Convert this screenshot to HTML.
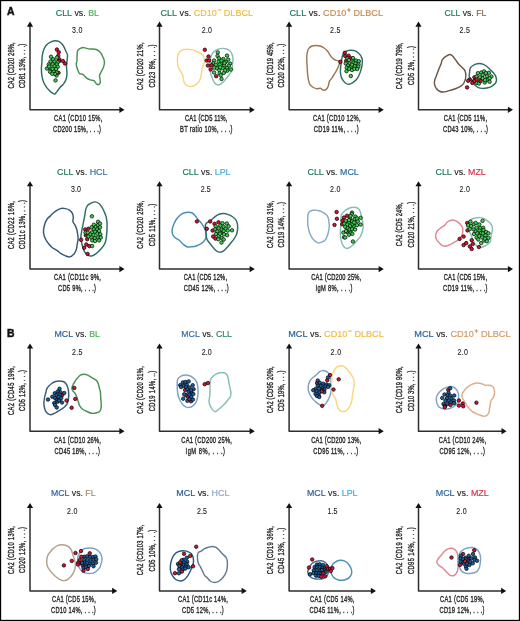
<!DOCTYPE html>
<html><head><meta charset="utf-8"><title>Figure</title>
<style>html,body{margin:0;padding:0;background:#fff;}svg{display:block;will-change:transform;}text{font-family:"Liberation Sans",sans-serif;}</style>
</head><body>
<svg width="520" height="621" viewBox="0 0 520 621">
<rect x="0" y="0" width="520" height="621" fill="#fff"/>
<path d="M30,25.6 V109.8 H120.5" fill="none" stroke="#2e2e2e" stroke-width="1.5" stroke-linejoin="round"/>
<path d="M30,21.6 L26.9,26.7 L33.1,26.7 Z" fill="#111"/>
<path d="M124.5,109.8 L119.4,106.7 L119.4,112.9 Z" fill="#111"/>
<text x="55.8" y="16" font-size="9.8" fill="#1f7a64" stroke="#1f7a64" stroke-width="0.2" textLength="16.2" lengthAdjust="spacingAndGlyphs">CLL</text>
<text x="74.46" y="16" font-size="9.8" fill="#1e1e1e" stroke="#1e1e1e" stroke-width="0.12" textLength="11.29" lengthAdjust="spacingAndGlyphs">vs.</text>
<text x="88.2" y="16" font-size="9.8" fill="#4bb651" stroke="#4bb651" stroke-width="0.2" textLength="10.8" lengthAdjust="spacingAndGlyphs">BL</text>
<text transform="translate(72.1,33) scale(0.85,1)" font-size="8.3" fill="#222" stroke="#222" stroke-width="0.1" letter-spacing="0.29">3.0</text>
<text transform="translate(54,121.3) scale(0.6,1)" font-size="9.6" fill="#2b2b2b" stroke="#2b2b2b" stroke-width="0.42" letter-spacing="0.55">CA1 (CD10 15%,</text>
<text transform="translate(53,132.4) scale(0.6,1)" font-size="9.6" fill="#2b2b2b" stroke="#2b2b2b" stroke-width="0.42" letter-spacing="0.4">CD200 15%, . . .)</text>
<text transform="translate(13.8,88.6) rotate(-90) scale(0.6,1)" font-size="9.6" fill="#2b2b2b" stroke="#2b2b2b" stroke-width="0.42" letter-spacing="0.28">CA2 (CD20 26%,</text>
<text transform="translate(25,88.1) rotate(-90) scale(0.6,1)" font-size="9.6" fill="#2b2b2b" stroke="#2b2b2b" stroke-width="0.42" letter-spacing="0.38">CD81 13%, . . .)</text>
<path d="M54.9,40.7 C56.35,40.55 57.58,40.8 58.8,41.4 C60.02,42 61.23,43.18 62.2,44.3 C63.17,45.42 63.97,46.9 64.6,48.1 C65.23,49.3 65.52,50.37 66,51.5 C66.48,52.63 67.33,53.28 67.5,54.9 C67.67,56.52 67.17,59.18 67,61.2 C66.83,63.22 66.5,64.92 66.5,67 C66.5,69.08 67.08,71.62 67,73.7 C66.92,75.78 66.57,77.8 66,79.5 C65.43,81.2 64.57,82.6 63.6,83.9 C62.63,85.2 61.25,86.1 60.2,87.3 C59.15,88.5 58.18,89.98 57.3,91.1 C56.42,92.22 55.7,93.67 54.9,94 C54.1,94.33 53.38,93.65 52.5,93.1 C51.62,92.55 50.65,91.75 49.6,90.7 C48.55,89.65 47.25,88.33 46.2,86.8 C45.15,85.27 44.02,83.35 43.3,81.5 C42.58,79.65 42.22,77.8 41.9,75.7 C41.58,73.6 41.4,71.15 41.4,68.9 C41.4,66.65 41.75,64.45 41.9,62.2 C42.05,59.95 41.98,57.5 42.3,55.4 C42.62,53.3 43.15,51.3 43.8,49.6 C44.45,47.9 45.15,46.42 46.2,45.2 C47.25,43.98 48.65,43.05 50.1,42.3 C51.55,41.55 53.45,40.85 54.9,40.7Z" fill="none" stroke="#2f6d62" stroke-width="1.45"/>
<path d="M77.7,50.7 C78.2,49.88 79.25,48.92 80.3,48.4 C81.35,47.88 82.83,47.57 84,47.6 C85.17,47.63 86.13,48.37 87.3,48.6 C88.47,48.83 89.7,48.88 91,49 C92.3,49.12 93.87,49.02 95.1,49.3 C96.33,49.58 97.42,50.03 98.4,50.7 C99.38,51.37 100.32,52.38 101,53.3 C101.68,54.22 102,55.15 102.5,56.2 C103,57.25 103.68,58.42 104,59.6 C104.32,60.78 104.52,61.95 104.4,63.3 C104.28,64.65 103.8,66.35 103.3,67.7 C102.8,69.05 102.02,70.17 101.4,71.4 C100.78,72.63 99.85,73.87 99.6,75.1 C99.35,76.33 99.78,77.57 99.9,78.8 C100.02,80.03 100.55,81.52 100.3,82.5 C100.05,83.48 99.08,84.52 98.4,84.7 C97.72,84.88 96.93,84.27 96.2,83.6 C95.47,82.93 94.98,81.32 94,80.7 C93.02,80.08 91.53,80.33 90.3,79.9 C89.07,79.47 87.83,79.02 86.6,78.1 C85.37,77.18 84.07,75.15 82.9,74.4 C81.73,73.65 80.4,74.22 79.6,73.6 C78.8,72.98 78.6,71.93 78.1,70.7 C77.6,69.47 76.92,67.43 76.6,66.2 C76.28,64.97 76.13,64.17 76.2,63.3 C76.27,62.43 76.87,62.12 77,61 C77.13,59.88 76.95,57.88 77,56.6 C77.05,55.32 77.18,54.28 77.3,53.3 C77.42,52.32 77.2,51.52 77.7,50.7Z" fill="none" stroke="#4a9155" stroke-width="1.45"/>
<circle cx="56.9" cy="49.5" r="1.75" fill="#dc0f30" stroke="#000" stroke-width="0.7"/>
<circle cx="58.75" cy="52.25" r="1.75" fill="#dc0f30" stroke="#000" stroke-width="0.7"/>
<circle cx="58.25" cy="55.75" r="1.75" fill="#dc0f30" stroke="#000" stroke-width="0.7"/>
<circle cx="59.25" cy="59.25" r="1.75" fill="#dc0f30" stroke="#000" stroke-width="0.7"/>
<circle cx="59" cy="61.25" r="1.75" fill="#dc0f30" stroke="#000" stroke-width="0.7"/>
<circle cx="62.9" cy="61" r="1.75" fill="#dc0f30" stroke="#000" stroke-width="0.7"/>
<circle cx="65" cy="63.5" r="1.75" fill="#dc0f30" stroke="#000" stroke-width="0.7"/>
<circle cx="58.5" cy="72.75" r="1.75" fill="#dc0f30" stroke="#000" stroke-width="0.7"/>
<circle cx="51" cy="56.75" r="1.75" fill="#3ccf50" stroke="#000" stroke-width="0.7"/>
<circle cx="57" cy="57.5" r="1.75" fill="#3ccf50" stroke="#000" stroke-width="0.7"/>
<circle cx="53" cy="59.25" r="1.75" fill="#3ccf50" stroke="#000" stroke-width="0.7"/>
<circle cx="50.5" cy="61.5" r="1.75" fill="#3ccf50" stroke="#000" stroke-width="0.7"/>
<circle cx="54.75" cy="61.5" r="1.75" fill="#3ccf50" stroke="#000" stroke-width="0.7"/>
<circle cx="57.5" cy="62.25" r="1.75" fill="#3ccf50" stroke="#000" stroke-width="0.7"/>
<circle cx="48.75" cy="64.5" r="1.75" fill="#3ccf50" stroke="#000" stroke-width="0.7"/>
<circle cx="52.75" cy="64.25" r="1.75" fill="#3ccf50" stroke="#000" stroke-width="0.7"/>
<circle cx="56.75" cy="64.5" r="1.75" fill="#3ccf50" stroke="#000" stroke-width="0.7"/>
<circle cx="47" cy="68.5" r="1.75" fill="#3ccf50" stroke="#000" stroke-width="0.7"/>
<circle cx="50.5" cy="68.5" r="1.75" fill="#3ccf50" stroke="#000" stroke-width="0.7"/>
<circle cx="54.5" cy="66.25" r="1.75" fill="#3ccf50" stroke="#000" stroke-width="0.7"/>
<circle cx="57.75" cy="66.75" r="1.75" fill="#3ccf50" stroke="#000" stroke-width="0.7"/>
<circle cx="56" cy="69" r="1.75" fill="#3ccf50" stroke="#000" stroke-width="0.7"/>
<circle cx="50" cy="71.75" r="1.75" fill="#3ccf50" stroke="#000" stroke-width="0.7"/>
<circle cx="53.75" cy="71.25" r="1.75" fill="#3ccf50" stroke="#000" stroke-width="0.7"/>
<circle cx="56.75" cy="72.5" r="1.75" fill="#3ccf50" stroke="#000" stroke-width="0.7"/>
<circle cx="56.5" cy="75.5" r="1.75" fill="#3ccf50" stroke="#000" stroke-width="0.7"/>
<circle cx="52.5" cy="68.8" r="1.75" fill="#3ccf50" stroke="#000" stroke-width="0.7"/>
<circle cx="49" cy="66.5" r="1.75" fill="#3ccf50" stroke="#000" stroke-width="0.7"/>
<circle cx="55" cy="74" r="1.75" fill="#3ccf50" stroke="#000" stroke-width="0.7"/>
<circle cx="52.2" cy="73.8" r="1.75" fill="#3ccf50" stroke="#000" stroke-width="0.7"/>
<circle cx="55.5" cy="80.4" r="1.75" fill="#3ccf50" stroke="#000" stroke-width="0.7"/>
<path d="M159.5,25.6 V109.8 H250.75" fill="none" stroke="#2e2e2e" stroke-width="1.5" stroke-linejoin="round"/>
<path d="M159.5,21.6 L156.4,26.7 L162.6,26.7 Z" fill="#111"/>
<path d="M254.75,109.8 L249.65,106.7 L249.65,112.9 Z" fill="#111"/>
<text x="160.5" y="16" font-size="9.8" fill="#1f7a64" stroke="#1f7a64" stroke-width="0.2" textLength="16.59" lengthAdjust="spacingAndGlyphs">CLL</text>
<text x="179.61" y="16" font-size="9.8" fill="#1e1e1e" stroke="#1e1e1e" stroke-width="0.12" textLength="11.56" lengthAdjust="spacingAndGlyphs">vs.</text>
<text x="193.68" y="16" font-size="9.8" fill="#f4b942" stroke="#f4b942" stroke-width="0.2" textLength="23.13" lengthAdjust="spacingAndGlyphs">CD10</text>
<rect x="217.5" y="9.45" width="3.7" height="1.1" fill="#f4b942"/>
<text x="223.84" y="16" font-size="9.8" fill="#f4b942" stroke="#f4b942" stroke-width="0.2" textLength="29.16" lengthAdjust="spacingAndGlyphs">DLBCL</text>
<text transform="translate(201.85,33) scale(0.85,1)" font-size="8.3" fill="#222" stroke="#222" stroke-width="0.1" letter-spacing="0.14">2.0</text>
<text transform="translate(185,121.3) scale(0.6,1)" font-size="9.6" fill="#2b2b2b" stroke="#2b2b2b" stroke-width="0.42" letter-spacing="0.27">CA1 (CD5 11%,</text>
<text transform="translate(180,132.4) scale(0.6,1)" font-size="9.6" fill="#2b2b2b" stroke="#2b2b2b" stroke-width="0.42" letter-spacing="0.54">BT ratio 10%, . . .)</text>
<text transform="translate(143.3,90) rotate(-90) scale(0.6,1)" font-size="9.6" fill="#2b2b2b" stroke="#2b2b2b" stroke-width="0.42" letter-spacing="0.43">CA2 (CD20 21%,</text>
<text transform="translate(154.5,87.5) rotate(-90) scale(0.6,1)" font-size="9.6" fill="#2b2b2b" stroke="#2b2b2b" stroke-width="0.42" letter-spacing="0.62">CD23 8%, . . .)</text>
<path d="M179,52.7 C179.77,51.82 181.08,50.48 182.5,49.9 C183.92,49.32 185.85,49.2 187.5,49.2 C189.15,49.2 190.75,49.48 192.4,49.9 C194.05,50.32 195.87,51 197.4,51.7 C198.93,52.4 200.48,53.1 201.6,54.1 C202.72,55.1 203.62,56.52 204.1,57.7 C204.58,58.88 204.62,59.97 204.5,61.2 C204.38,62.43 203.82,63.73 203.4,65.1 C202.98,66.47 202.35,67.87 202,69.4 C201.65,70.93 201.6,72.65 201.3,74.3 C201,75.95 200.85,77.77 200.2,79.3 C199.55,80.83 198.58,82.38 197.4,83.5 C196.22,84.62 194.52,85.52 193.1,86 C191.68,86.48 190.2,86.7 188.9,86.4 C187.6,86.1 186.18,85.15 185.3,84.2 C184.42,83.25 184,82.12 183.6,80.7 C183.2,79.28 183.32,77.12 182.9,75.7 C182.48,74.28 181.82,73.48 181.1,72.2 C180.38,70.92 179.2,69.53 178.6,68 C178,66.47 177.68,64.67 177.5,63 C177.32,61.33 177.43,59.3 177.5,58 C177.57,56.7 177.65,56.08 177.9,55.2 C178.15,54.32 178.23,53.58 179,52.7Z" fill="none" stroke="#fad582" stroke-width="1.45"/>
<path d="M211.7,54.6 C212.4,53.18 213.43,51.98 214.5,51.1 C215.57,50.22 216.8,49.75 218.1,49.3 C219.4,48.85 220.88,48.45 222.3,48.4 C223.72,48.35 225.3,48.55 226.6,49 C227.9,49.45 229.17,50.17 230.1,51.1 C231.03,52.03 231.72,53.3 232.2,54.6 C232.68,55.9 232.93,57.48 233,58.9 C233.07,60.32 232.73,61.68 232.6,63.1 C232.47,64.52 232.43,65.97 232.2,67.4 C231.97,68.83 231.78,70.4 231.2,71.7 C230.62,73 229.58,74.02 228.7,75.2 C227.82,76.38 226.85,77.62 225.9,78.8 C224.95,79.98 224.07,81.3 223,82.3 C221.93,83.3 220.62,84.45 219.5,84.8 C218.38,85.15 217.25,84.93 216.3,84.4 C215.35,83.87 214.52,82.78 213.8,81.6 C213.08,80.42 212.53,78.72 212,77.3 C211.47,75.88 211.02,74.52 210.6,73.1 C210.18,71.68 209.62,70.22 209.5,68.8 C209.38,67.38 209.77,66.13 209.9,64.6 C210.03,63.07 210,61.27 210.3,59.6 C210.6,57.93 211,56.02 211.7,54.6Z" fill="none" stroke="#86bfb0" stroke-width="1.45"/>
<circle cx="217.8" cy="52.5" r="1.75" fill="#3ccf50" stroke="#000" stroke-width="0.7"/>
<circle cx="217.5" cy="55.9" r="1.75" fill="#3ccf50" stroke="#000" stroke-width="0.7"/>
<circle cx="227" cy="55.6" r="1.75" fill="#3ccf50" stroke="#000" stroke-width="0.7"/>
<circle cx="214.1" cy="60.5" r="1.75" fill="#3ccf50" stroke="#000" stroke-width="0.7"/>
<circle cx="219" cy="58.4" r="1.75" fill="#3ccf50" stroke="#000" stroke-width="0.7"/>
<circle cx="223.3" cy="59" r="1.75" fill="#3ccf50" stroke="#000" stroke-width="0.7"/>
<circle cx="228.2" cy="59.6" r="1.75" fill="#3ccf50" stroke="#000" stroke-width="0.7"/>
<circle cx="218.7" cy="61.8" r="1.75" fill="#3ccf50" stroke="#000" stroke-width="0.7"/>
<circle cx="221.5" cy="63" r="1.75" fill="#3ccf50" stroke="#000" stroke-width="0.7"/>
<circle cx="225.8" cy="61.8" r="1.75" fill="#3ccf50" stroke="#000" stroke-width="0.7"/>
<circle cx="230.1" cy="63.6" r="1.75" fill="#3ccf50" stroke="#000" stroke-width="0.7"/>
<circle cx="213.2" cy="63.3" r="1.75" fill="#3ccf50" stroke="#000" stroke-width="0.7"/>
<circle cx="215.9" cy="64.8" r="1.75" fill="#3ccf50" stroke="#000" stroke-width="0.7"/>
<circle cx="219.6" cy="64.5" r="1.75" fill="#3ccf50" stroke="#000" stroke-width="0.7"/>
<circle cx="224.2" cy="65.2" r="1.75" fill="#3ccf50" stroke="#000" stroke-width="0.7"/>
<circle cx="228.8" cy="65.8" r="1.75" fill="#3ccf50" stroke="#000" stroke-width="0.7"/>
<circle cx="216.8" cy="68.2" r="1.75" fill="#3ccf50" stroke="#000" stroke-width="0.7"/>
<circle cx="222.7" cy="68" r="1.75" fill="#3ccf50" stroke="#000" stroke-width="0.7"/>
<circle cx="227" cy="68" r="1.75" fill="#3ccf50" stroke="#000" stroke-width="0.7"/>
<circle cx="231" cy="69.5" r="1.75" fill="#3ccf50" stroke="#000" stroke-width="0.7"/>
<circle cx="214.1" cy="67.6" r="1.75" fill="#3ccf50" stroke="#000" stroke-width="0.7"/>
<circle cx="219.3" cy="70.1" r="1.75" fill="#3ccf50" stroke="#000" stroke-width="0.7"/>
<circle cx="227.3" cy="70.7" r="1.75" fill="#3ccf50" stroke="#000" stroke-width="0.7"/>
<circle cx="223.9" cy="72.8" r="1.75" fill="#3ccf50" stroke="#000" stroke-width="0.7"/>
<circle cx="214.1" cy="72.5" r="1.75" fill="#3ccf50" stroke="#000" stroke-width="0.7"/>
<circle cx="219.6" cy="73.5" r="1.75" fill="#3ccf50" stroke="#000" stroke-width="0.7"/>
<circle cx="220.8" cy="75.3" r="1.75" fill="#3ccf50" stroke="#000" stroke-width="0.7"/>
<circle cx="221.5" cy="79" r="1.75" fill="#3ccf50" stroke="#000" stroke-width="0.7"/>
<circle cx="221.5" cy="60.5" r="1.75" fill="#3ccf50" stroke="#000" stroke-width="0.7"/>
<circle cx="224.5" cy="63" r="1.75" fill="#3ccf50" stroke="#000" stroke-width="0.7"/>
<circle cx="220.2" cy="67.3" r="1.75" fill="#3ccf50" stroke="#000" stroke-width="0.7"/>
<circle cx="225.2" cy="70.4" r="1.75" fill="#3ccf50" stroke="#000" stroke-width="0.7"/>
<circle cx="204.8" cy="49.8" r="1.75" fill="#dc0f30" stroke="#000" stroke-width="0.7"/>
<circle cx="208.5" cy="56.5" r="1.75" fill="#dc0f30" stroke="#000" stroke-width="0.7"/>
<circle cx="206.7" cy="60.5" r="1.75" fill="#dc0f30" stroke="#000" stroke-width="0.7"/>
<circle cx="209.2" cy="60.5" r="1.75" fill="#dc0f30" stroke="#000" stroke-width="0.7"/>
<circle cx="207.9" cy="65.5" r="1.75" fill="#dc0f30" stroke="#000" stroke-width="0.7"/>
<circle cx="211.6" cy="65.2" r="1.75" fill="#dc0f30" stroke="#000" stroke-width="0.7"/>
<circle cx="210.7" cy="69.5" r="1.75" fill="#dc0f30" stroke="#000" stroke-width="0.7"/>
<circle cx="216.2" cy="76.2" r="1.75" fill="#dc0f30" stroke="#000" stroke-width="0.7"/>
<path d="M289.1,25.6 V109.8 H379.75" fill="none" stroke="#2e2e2e" stroke-width="1.5" stroke-linejoin="round"/>
<path d="M289.1,21.6 L286,26.7 L292.2,26.7 Z" fill="#111"/>
<path d="M383.75,109.8 L378.65,106.7 L378.65,112.9 Z" fill="#111"/>
<text x="289.5" y="16" font-size="9.8" fill="#1f7a64" stroke="#1f7a64" stroke-width="0.2" textLength="16.77" lengthAdjust="spacingAndGlyphs">CLL</text>
<text x="308.81" y="16" font-size="9.8" fill="#1e1e1e" stroke="#1e1e1e" stroke-width="0.12" textLength="11.68" lengthAdjust="spacingAndGlyphs">vs.</text>
<text x="323.04" y="16" font-size="9.8" fill="#c98b52" stroke="#c98b52" stroke-width="0.2" textLength="23.38" lengthAdjust="spacingAndGlyphs">CD10</text>
<rect x="347.11" y="9.45" width="3.7" height="1.1" fill="#c98b52"/>
<rect x="348.41" y="8.15" width="1.1" height="3.7" fill="#c98b52"/>
<text x="353.52" y="16" font-size="9.8" fill="#c98b52" stroke="#c98b52" stroke-width="0.2" textLength="29.48" lengthAdjust="spacingAndGlyphs">DLBCL</text>
<text transform="translate(330.1,33) scale(0.85,1)" font-size="8.3" fill="#222" stroke="#222" stroke-width="0.1" letter-spacing="0.29">2.5</text>
<text transform="translate(313,121.3) scale(0.6,1)" font-size="9.6" fill="#2b2b2b" stroke="#2b2b2b" stroke-width="0.42" letter-spacing="0.43">CA1 (CD10 12%,</text>
<text transform="translate(313.75,132.4) scale(0.6,1)" font-size="9.6" fill="#2b2b2b" stroke="#2b2b2b" stroke-width="0.42" letter-spacing="0.49">CD19 11%, . . .)</text>
<text transform="translate(272.9,88.75) rotate(-90) scale(0.6,1)" font-size="9.6" fill="#2b2b2b" stroke="#2b2b2b" stroke-width="0.42" letter-spacing="0.27">CA2 (CD19 45%,</text>
<text transform="translate(284.1,87.5) rotate(-90) scale(0.6,1)" font-size="9.6" fill="#2b2b2b" stroke="#2b2b2b" stroke-width="0.42" letter-spacing="0.31">CD20 22%, . . .)</text>
<path d="M308.8,48.4 C309.53,47.52 310.78,46.5 312,46 C313.22,45.5 314.75,45.4 316.1,45.4 C317.45,45.4 318.77,45.57 320.1,46 C321.43,46.43 322.9,47.2 324.1,48 C325.3,48.8 326.37,49.72 327.3,50.8 C328.23,51.88 328.88,53.35 329.7,54.5 C330.52,55.65 331.25,56.77 332.2,57.7 C333.15,58.63 334.2,59.43 335.4,60.1 C336.6,60.77 338.87,60.7 339.4,61.7 C339.93,62.7 339.13,64.55 338.6,66.1 C338.07,67.65 337,69.52 336.2,71 C335.4,72.48 334.53,73.8 333.8,75 C333.07,76.2 332.55,77.13 331.8,78.2 C331.05,79.27 329.85,80.2 329.3,81.4 C328.75,82.6 328.97,84.12 328.5,85.4 C328.03,86.68 327.37,88.28 326.5,89.1 C325.63,89.92 324.3,90.43 323.3,90.3 C322.3,90.17 321.57,88.57 320.5,88.3 C319.43,88.03 318.1,88.83 316.9,88.7 C315.7,88.57 314.45,88.18 313.3,87.5 C312.15,86.82 310.82,85.88 310,84.6 C309.18,83.32 308.8,81.53 308.4,79.8 C308,78.07 307.8,76.22 307.6,74.2 C307.4,72.18 307.33,69.85 307.2,67.7 C307.07,65.55 306.87,63.3 306.8,61.3 C306.73,59.3 306.67,57.37 306.8,55.7 C306.93,54.03 307.27,52.52 307.6,51.3 C307.93,50.08 308.07,49.28 308.8,48.4Z" fill="none" stroke="#9d7754" stroke-width="1.45"/>
<path d="M343.2,53.8 C343.85,52.8 344.82,51.9 346,51.3 C347.18,50.7 348.88,50.32 350.3,50.2 C351.72,50.08 353.2,50.18 354.5,50.6 C355.8,51.02 357.03,51.82 358.1,52.7 C359.17,53.58 360.2,54.65 360.9,55.9 C361.6,57.15 362.12,58.67 362.3,60.2 C362.48,61.73 362.23,63.45 362,65.1 C361.77,66.75 361.43,68.33 360.9,70.1 C360.37,71.87 359.62,74.05 358.8,75.7 C357.98,77.35 357.07,78.82 356,80 C354.93,81.18 353.58,82.1 352.4,82.8 C351.22,83.5 349.97,84.08 348.9,84.2 C347.83,84.32 346.95,84.08 346,83.5 C345.05,82.92 344.02,81.87 343.2,80.7 C342.38,79.53 341.57,78.03 341.1,76.5 C340.63,74.97 340.47,73.17 340.4,71.5 C340.33,69.83 340.53,68.15 340.7,66.5 C340.87,64.85 341.17,63.13 341.4,61.6 C341.63,60.07 341.8,58.6 342.1,57.3 C342.4,56 342.55,54.8 343.2,53.8Z" fill="none" stroke="#2f6d62" stroke-width="1.45"/>
<circle cx="348.6" cy="55.7" r="1.75" fill="#dc0f30" stroke="#000" stroke-width="0.7"/>
<circle cx="350.3" cy="58.1" r="1.75" fill="#dc0f30" stroke="#000" stroke-width="0.7"/>
<circle cx="346.2" cy="60.8" r="1.75" fill="#dc0f30" stroke="#000" stroke-width="0.7"/>
<circle cx="347.4" cy="58.4" r="1.75" fill="#3ccf50" stroke="#000" stroke-width="0.7"/>
<circle cx="348.9" cy="60.1" r="1.75" fill="#3ccf50" stroke="#000" stroke-width="0.7"/>
<circle cx="352.5" cy="59.8" r="1.75" fill="#3ccf50" stroke="#000" stroke-width="0.7"/>
<circle cx="353" cy="58.1" r="1.75" fill="#3ccf50" stroke="#000" stroke-width="0.7"/>
<circle cx="356.1" cy="60.6" r="1.75" fill="#3ccf50" stroke="#000" stroke-width="0.7"/>
<circle cx="358.8" cy="61.3" r="1.75" fill="#3ccf50" stroke="#000" stroke-width="0.7"/>
<circle cx="345.7" cy="63.5" r="1.75" fill="#3ccf50" stroke="#000" stroke-width="0.7"/>
<circle cx="349.6" cy="63.5" r="1.75" fill="#3ccf50" stroke="#000" stroke-width="0.7"/>
<circle cx="353.5" cy="62.5" r="1.75" fill="#3ccf50" stroke="#000" stroke-width="0.7"/>
<circle cx="355.6" cy="63.5" r="1.75" fill="#3ccf50" stroke="#000" stroke-width="0.7"/>
<circle cx="358.5" cy="64.4" r="1.75" fill="#3ccf50" stroke="#000" stroke-width="0.7"/>
<circle cx="347.9" cy="65.6" r="1.75" fill="#3ccf50" stroke="#000" stroke-width="0.7"/>
<circle cx="351" cy="66.6" r="1.75" fill="#3ccf50" stroke="#000" stroke-width="0.7"/>
<circle cx="354.7" cy="66.1" r="1.75" fill="#3ccf50" stroke="#000" stroke-width="0.7"/>
<circle cx="358.3" cy="66.6" r="1.75" fill="#3ccf50" stroke="#000" stroke-width="0.7"/>
<circle cx="346.7" cy="67.8" r="1.75" fill="#3ccf50" stroke="#000" stroke-width="0.7"/>
<circle cx="349.1" cy="68.8" r="1.75" fill="#3ccf50" stroke="#000" stroke-width="0.7"/>
<circle cx="352" cy="70" r="1.75" fill="#3ccf50" stroke="#000" stroke-width="0.7"/>
<circle cx="354.4" cy="68.8" r="1.75" fill="#3ccf50" stroke="#000" stroke-width="0.7"/>
<circle cx="357.3" cy="69" r="1.75" fill="#3ccf50" stroke="#000" stroke-width="0.7"/>
<circle cx="346.5" cy="71.2" r="1.75" fill="#3ccf50" stroke="#000" stroke-width="0.7"/>
<circle cx="350.8" cy="76" r="1.75" fill="#3ccf50" stroke="#000" stroke-width="0.7"/>
<circle cx="352" cy="64.7" r="1.75" fill="#3ccf50" stroke="#000" stroke-width="0.7"/>
<circle cx="344.8" cy="52.8" r="1.75" fill="#dc0f30" stroke="#000" stroke-width="0.7"/>
<circle cx="345.2" cy="56" r="1.75" fill="#dc0f30" stroke="#000" stroke-width="0.7"/>
<circle cx="340.4" cy="61.8" r="1.75" fill="#dc0f30" stroke="#000" stroke-width="0.7"/>
<path d="M418.5,25.6 V109.8 H509" fill="none" stroke="#2e2e2e" stroke-width="1.5" stroke-linejoin="round"/>
<path d="M418.5,21.6 L415.4,26.7 L421.6,26.7 Z" fill="#111"/>
<path d="M513,109.8 L507.9,106.7 L507.9,112.9 Z" fill="#111"/>
<text x="444.5" y="16" font-size="9.8" fill="#1f7a64" stroke="#1f7a64" stroke-width="0.2" textLength="15.84" lengthAdjust="spacingAndGlyphs">CLL</text>
<text x="462.74" y="16" font-size="9.8" fill="#1e1e1e" stroke="#1e1e1e" stroke-width="0.12" textLength="11.03" lengthAdjust="spacingAndGlyphs">vs.</text>
<text x="476.17" y="16" font-size="9.8" fill="#8a6646" stroke="#8a6646" stroke-width="0.2" textLength="10.08" lengthAdjust="spacingAndGlyphs">FL</text>
<text transform="translate(459.6,33) scale(0.85,1)" font-size="8.3" fill="#222" stroke="#222" stroke-width="0.1" letter-spacing="0.29">2.5</text>
<text transform="translate(443.75,121.3) scale(0.6,1)" font-size="9.6" fill="#2b2b2b" stroke="#2b2b2b" stroke-width="0.42" letter-spacing="0.38">CA1 (CD5 11%,</text>
<text transform="translate(443,132.4) scale(0.6,1)" font-size="9.6" fill="#2b2b2b" stroke="#2b2b2b" stroke-width="0.42" letter-spacing="0.45">CD43 10%, . . .)</text>
<text transform="translate(402.3,89.25) rotate(-90) scale(0.6,1)" font-size="9.6" fill="#2b2b2b" stroke="#2b2b2b" stroke-width="0.42" letter-spacing="0.33">CA2 (CD19 79%,</text>
<text transform="translate(413.5,85) rotate(-90) scale(0.6,1)" font-size="9.6" fill="#2b2b2b" stroke="#2b2b2b" stroke-width="0.42" letter-spacing="0.57">CD5 2%, . . .)</text>
<path d="M443.1,58.8 C443.82,58.03 445.12,56.92 446.2,56.2 C447.28,55.48 448.58,54.57 449.6,54.5 C450.62,54.43 451.33,54.95 452.3,55.8 C453.27,56.65 454.32,58.2 455.4,59.6 C456.48,61 457.65,62.85 458.8,64.2 C459.95,65.55 461.27,66.6 462.3,67.7 C463.33,68.8 464.42,69.65 465,70.8 C465.58,71.95 465.73,73.2 465.8,74.6 C465.87,76 465.73,77.78 465.4,79.2 C465.07,80.62 464.57,81.93 463.8,83.1 C463.03,84.27 462.2,85.25 460.8,86.2 C459.4,87.15 457.2,88.1 455.4,88.8 C453.6,89.5 451.8,89.88 450,90.4 C448.2,90.92 446.27,91.72 444.6,91.9 C442.93,92.08 441.35,92.02 440,91.5 C438.65,90.98 437.4,89.95 436.5,88.8 C435.6,87.65 434.92,85.93 434.6,84.6 C434.28,83.27 434.33,82.2 434.6,80.8 C434.87,79.4 435.55,78 436.2,76.2 C436.85,74.4 437.73,71.93 438.5,70 C439.27,68.07 440.23,66.13 440.8,64.6 C441.37,63.07 441.52,61.77 441.9,60.8 C442.28,59.83 442.38,59.57 443.1,58.8Z" fill="none" stroke="#6b5545" stroke-width="1.45"/>
<path d="M469.2,76.6 C468.97,75.68 469.33,74.58 469.5,73.2 C469.67,71.82 469.62,69.58 470.2,68.3 C470.78,67.02 471.83,66.25 473,65.5 C474.17,64.75 475.82,64.08 477.2,63.8 C478.58,63.52 479.92,63.52 481.3,63.8 C482.68,64.08 484.12,64.63 485.5,65.5 C486.88,66.37 488.33,67.83 489.6,69 C490.87,70.17 492.12,71.35 493.1,72.5 C494.08,73.65 494.93,74.63 495.5,75.9 C496.07,77.17 496.55,78.83 496.5,80.1 C496.45,81.37 496,82.47 495.2,83.5 C494.4,84.53 493.08,85.55 491.7,86.3 C490.32,87.05 488.52,87.65 486.9,88 C485.28,88.35 483.5,88.5 482,88.4 C480.5,88.3 479.05,87.92 477.9,87.4 C476.75,86.88 475.92,86.17 475.1,85.3 C474.28,84.43 473.7,83.3 473,82.2 C472.3,81.1 471.53,79.63 470.9,78.7 C470.27,77.77 469.43,77.52 469.2,76.6Z" fill="none" stroke="#2f6d62" stroke-width="1.45"/>
<circle cx="474.4" cy="77.3" r="1.75" fill="#dc0f30" stroke="#000" stroke-width="0.7"/>
<circle cx="477.9" cy="73.2" r="1.75" fill="#3ccf50" stroke="#000" stroke-width="0.7"/>
<circle cx="481.3" cy="72.5" r="1.75" fill="#3ccf50" stroke="#000" stroke-width="0.7"/>
<circle cx="484.1" cy="71.4" r="1.75" fill="#3ccf50" stroke="#000" stroke-width="0.7"/>
<circle cx="488.9" cy="72.8" r="1.75" fill="#3ccf50" stroke="#000" stroke-width="0.7"/>
<circle cx="476.5" cy="76.6" r="1.75" fill="#3ccf50" stroke="#000" stroke-width="0.7"/>
<circle cx="479.9" cy="77.3" r="1.75" fill="#3ccf50" stroke="#000" stroke-width="0.7"/>
<circle cx="482.7" cy="74.9" r="1.75" fill="#3ccf50" stroke="#000" stroke-width="0.7"/>
<circle cx="485.8" cy="73.2" r="1.75" fill="#3ccf50" stroke="#000" stroke-width="0.7"/>
<circle cx="486.9" cy="76.3" r="1.75" fill="#3ccf50" stroke="#000" stroke-width="0.7"/>
<circle cx="491.4" cy="76.6" r="1.75" fill="#3ccf50" stroke="#000" stroke-width="0.7"/>
<circle cx="482.7" cy="78.4" r="1.75" fill="#3ccf50" stroke="#000" stroke-width="0.7"/>
<circle cx="487.2" cy="79.7" r="1.75" fill="#3ccf50" stroke="#000" stroke-width="0.7"/>
<circle cx="489.6" cy="78.4" r="1.75" fill="#3ccf50" stroke="#000" stroke-width="0.7"/>
<circle cx="476.5" cy="82.9" r="1.75" fill="#3ccf50" stroke="#000" stroke-width="0.7"/>
<circle cx="478.9" cy="83.5" r="1.75" fill="#3ccf50" stroke="#000" stroke-width="0.7"/>
<circle cx="484.8" cy="82.5" r="1.75" fill="#3ccf50" stroke="#000" stroke-width="0.7"/>
<circle cx="489.6" cy="81.8" r="1.75" fill="#3ccf50" stroke="#000" stroke-width="0.7"/>
<circle cx="485.1" cy="80.1" r="1.75" fill="#3ccf50" stroke="#000" stroke-width="0.7"/>
<circle cx="480" cy="80.5" r="1.75" fill="#3ccf50" stroke="#000" stroke-width="0.7"/>
<circle cx="469.5" cy="79.7" r="1.75" fill="#dc0f30" stroke="#000" stroke-width="0.7"/>
<circle cx="468.2" cy="80.8" r="1.75" fill="#dc0f30" stroke="#000" stroke-width="0.7"/>
<circle cx="476.1" cy="79.7" r="1.75" fill="#dc0f30" stroke="#000" stroke-width="0.7"/>
<circle cx="474" cy="81.1" r="1.75" fill="#dc0f30" stroke="#000" stroke-width="0.7"/>
<circle cx="472.3" cy="82.9" r="1.75" fill="#dc0f30" stroke="#000" stroke-width="0.7"/>
<circle cx="480.6" cy="81.1" r="1.75" fill="#dc0f30" stroke="#000" stroke-width="0.7"/>
<circle cx="467.1" cy="87.4" r="1.75" fill="#dc0f30" stroke="#000" stroke-width="0.7"/>
<path d="M30,185.25 V269.1 H120.5" fill="none" stroke="#2e2e2e" stroke-width="1.5" stroke-linejoin="round"/>
<path d="M30,181.25 L26.9,186.35 L33.1,186.35 Z" fill="#111"/>
<path d="M124.5,269.1 L119.4,266 L119.4,272.2 Z" fill="#111"/>
<text x="57" y="175" font-size="9.8" fill="#1f7a64" stroke="#1f7a64" stroke-width="0.2" textLength="16.34" lengthAdjust="spacingAndGlyphs">CLL</text>
<text x="75.82" y="175" font-size="9.8" fill="#1e1e1e" stroke="#1e1e1e" stroke-width="0.12" textLength="11.38" lengthAdjust="spacingAndGlyphs">vs.</text>
<text x="89.68" y="175" font-size="9.8" fill="#3a72a6" stroke="#3a72a6" stroke-width="0.2" textLength="17.82" lengthAdjust="spacingAndGlyphs">HCL</text>
<text transform="translate(71.1,192) scale(0.85,1)" font-size="8.3" fill="#222" stroke="#222" stroke-width="0.1" letter-spacing="-0">3.0</text>
<text transform="translate(54,280.4) scale(0.6,1)" font-size="9.6" fill="#2b2b2b" stroke="#2b2b2b" stroke-width="0.42" letter-spacing="0.46">CA1 (CD11c 9%,</text>
<text transform="translate(58,291.4) scale(0.6,1)" font-size="9.6" fill="#2b2b2b" stroke="#2b2b2b" stroke-width="0.42" letter-spacing="0.44">CD5 9%, . . .)</text>
<text transform="translate(13.8,249) rotate(-90) scale(0.6,1)" font-size="9.6" fill="#2b2b2b" stroke="#2b2b2b" stroke-width="0.42" letter-spacing="0.49">CA2 (CD22 16%,</text>
<text transform="translate(25,249) rotate(-90) scale(0.6,1)" font-size="9.6" fill="#2b2b2b" stroke="#2b2b2b" stroke-width="0.42" letter-spacing="0.58">CD11c 13%, . . .)</text>
<path d="M47.2,219 C48.15,217.7 49.4,216.82 50.7,215.6 C52,214.38 53.4,212.87 55,211.7 C56.6,210.53 58.55,209.12 60.3,208.6 C62.05,208.08 63.92,208.32 65.5,208.6 C67.08,208.88 68.65,209.5 69.8,210.3 C70.95,211.1 71.82,212.23 72.4,213.4 C72.98,214.57 73.22,215.92 73.3,217.3 C73.38,218.68 72.62,220.4 72.9,221.7 C73.18,223 74.35,223.8 75,225.1 C75.65,226.4 76.35,227.9 76.8,229.5 C77.25,231.1 77.48,233.12 77.7,234.7 C77.92,236.28 78.18,237.4 78.1,239 C78.02,240.6 77.5,242.55 77.2,244.3 C76.9,246.05 76.8,247.92 76.3,249.5 C75.8,251.08 75.28,252.57 74.2,253.8 C73.12,255.03 71.33,256.6 69.8,256.9 C68.27,257.2 66.52,256.18 65,255.6 C63.48,255.02 62.07,254.28 60.7,253.4 C59.33,252.52 58.18,251.25 56.8,250.3 C55.42,249.35 53.7,248.7 52.4,247.7 C51.1,246.7 50.15,245.75 49,244.3 C47.85,242.85 46.38,240.75 45.5,239 C44.62,237.25 44,235.53 43.7,233.8 C43.4,232.07 43.48,230.33 43.7,228.6 C43.92,226.87 44.42,225 45,223.4 C45.58,221.8 46.25,220.3 47.2,219Z" fill="none" stroke="#36597a" stroke-width="1.45"/>
<path d="M87.7,205.3 C88.67,204.17 90.22,203.37 91.5,202.8 C92.78,202.23 94.1,201.73 95.4,201.9 C96.7,202.07 98.17,202.83 99.3,203.8 C100.43,204.77 101.4,206.42 102.2,207.7 C103,208.98 103.47,210.05 104.1,211.5 C104.73,212.95 105.52,214.62 106,216.4 C106.48,218.18 106.83,220.12 107,222.2 C107.17,224.28 107.08,226.65 107,228.9 C106.92,231.15 106.73,233.6 106.5,235.7 C106.27,237.8 106.17,239.72 105.6,241.5 C105.03,243.28 104.15,244.87 103.1,246.4 C102.05,247.93 100.58,249.42 99.3,250.7 C98.02,251.98 96.7,253.22 95.4,254.1 C94.1,254.98 92.78,255.83 91.5,256 C90.22,256.17 88.82,255.73 87.7,255.1 C86.58,254.47 85.62,253.5 84.8,252.2 C83.98,250.9 83.37,249.08 82.8,247.3 C82.23,245.52 81.72,243.27 81.4,241.5 C81.08,239.73 80.82,238.63 80.9,236.7 C80.98,234.77 81.5,232.17 81.9,229.9 C82.3,227.63 82.82,225.52 83.3,223.1 C83.78,220.68 84.4,217.65 84.8,215.4 C85.2,213.15 85.22,211.28 85.7,209.6 C86.18,207.92 86.73,206.43 87.7,205.3Z" fill="none" stroke="#2f6d62" stroke-width="1.45"/>
<circle cx="85.2" cy="229.4" r="1.75" fill="#dc0f30" stroke="#000" stroke-width="0.7"/>
<circle cx="88.4" cy="228.8" r="1.75" fill="#dc0f30" stroke="#000" stroke-width="0.7"/>
<circle cx="85.8" cy="235.2" r="1.75" fill="#dc0f30" stroke="#000" stroke-width="0.7"/>
<circle cx="81.1" cy="239.8" r="1.75" fill="#dc0f30" stroke="#000" stroke-width="0.7"/>
<circle cx="87.2" cy="239.2" r="1.75" fill="#dc0f30" stroke="#000" stroke-width="0.7"/>
<circle cx="86.3" cy="244.4" r="1.75" fill="#dc0f30" stroke="#000" stroke-width="0.7"/>
<circle cx="89.3" cy="246.1" r="1.75" fill="#dc0f30" stroke="#000" stroke-width="0.7"/>
<circle cx="84.2" cy="247.8" r="1.75" fill="#dc0f30" stroke="#000" stroke-width="0.7"/>
<circle cx="87.6" cy="253.9" r="1.75" fill="#dc0f30" stroke="#000" stroke-width="0.7"/>
<circle cx="91.9" cy="216.3" r="1.75" fill="#3ccf50" stroke="#000" stroke-width="0.7"/>
<circle cx="98" cy="221.8" r="1.75" fill="#3ccf50" stroke="#000" stroke-width="0.7"/>
<circle cx="93.9" cy="224.7" r="1.75" fill="#3ccf50" stroke="#000" stroke-width="0.7"/>
<circle cx="98" cy="225" r="1.75" fill="#3ccf50" stroke="#000" stroke-width="0.7"/>
<circle cx="100" cy="223.6" r="1.75" fill="#3ccf50" stroke="#000" stroke-width="0.7"/>
<circle cx="91.6" cy="227.3" r="1.75" fill="#3ccf50" stroke="#000" stroke-width="0.7"/>
<circle cx="95.6" cy="227.1" r="1.75" fill="#3ccf50" stroke="#000" stroke-width="0.7"/>
<circle cx="100" cy="227.3" r="1.75" fill="#3ccf50" stroke="#000" stroke-width="0.7"/>
<circle cx="93.9" cy="229.4" r="1.75" fill="#3ccf50" stroke="#000" stroke-width="0.7"/>
<circle cx="97.1" cy="229.4" r="1.75" fill="#3ccf50" stroke="#000" stroke-width="0.7"/>
<circle cx="91.9" cy="232.3" r="1.75" fill="#3ccf50" stroke="#000" stroke-width="0.7"/>
<circle cx="95" cy="231.7" r="1.75" fill="#3ccf50" stroke="#000" stroke-width="0.7"/>
<circle cx="99.1" cy="231.1" r="1.75" fill="#3ccf50" stroke="#000" stroke-width="0.7"/>
<circle cx="85.5" cy="232.6" r="1.75" fill="#3ccf50" stroke="#000" stroke-width="0.7"/>
<circle cx="87.8" cy="232.8" r="1.75" fill="#3ccf50" stroke="#000" stroke-width="0.7"/>
<circle cx="90.4" cy="234.6" r="1.75" fill="#3ccf50" stroke="#000" stroke-width="0.7"/>
<circle cx="93.3" cy="235.2" r="1.75" fill="#3ccf50" stroke="#000" stroke-width="0.7"/>
<circle cx="97.4" cy="233.7" r="1.75" fill="#3ccf50" stroke="#000" stroke-width="0.7"/>
<circle cx="100.3" cy="234.3" r="1.75" fill="#3ccf50" stroke="#000" stroke-width="0.7"/>
<circle cx="88.4" cy="236.6" r="1.75" fill="#3ccf50" stroke="#000" stroke-width="0.7"/>
<circle cx="91.6" cy="237.5" r="1.75" fill="#3ccf50" stroke="#000" stroke-width="0.7"/>
<circle cx="94.8" cy="238.1" r="1.75" fill="#3ccf50" stroke="#000" stroke-width="0.7"/>
<circle cx="98" cy="237.5" r="1.75" fill="#3ccf50" stroke="#000" stroke-width="0.7"/>
<circle cx="100.8" cy="237.5" r="1.75" fill="#3ccf50" stroke="#000" stroke-width="0.7"/>
<circle cx="92.2" cy="240.4" r="1.75" fill="#3ccf50" stroke="#000" stroke-width="0.7"/>
<circle cx="95" cy="241" r="1.75" fill="#3ccf50" stroke="#000" stroke-width="0.7"/>
<circle cx="99.1" cy="240.4" r="1.75" fill="#3ccf50" stroke="#000" stroke-width="0.7"/>
<circle cx="92.1" cy="246.1" r="1.75" fill="#3ccf50" stroke="#000" stroke-width="0.7"/>
<path d="M159.5,185.25 V269.1 H250.75" fill="none" stroke="#2e2e2e" stroke-width="1.5" stroke-linejoin="round"/>
<path d="M159.5,181.25 L156.4,186.35 L162.6,186.35 Z" fill="#111"/>
<path d="M254.75,269.1 L249.65,266 L249.65,272.2 Z" fill="#111"/>
<text x="182.5" y="175" font-size="9.8" fill="#1f7a64" stroke="#1f7a64" stroke-width="0.2" textLength="16.17" lengthAdjust="spacingAndGlyphs">CLL</text>
<text x="201.11" y="175" font-size="9.8" fill="#1e1e1e" stroke="#1e1e1e" stroke-width="0.12" textLength="11.26" lengthAdjust="spacingAndGlyphs">vs.</text>
<text x="214.82" y="175" font-size="9.8" fill="#49abdc" stroke="#49abdc" stroke-width="0.2" textLength="15.68" lengthAdjust="spacingAndGlyphs">LPL</text>
<text transform="translate(200.85,192) scale(0.85,1)" font-size="8.3" fill="#222" stroke="#222" stroke-width="0.1" letter-spacing="-0">2.5</text>
<text transform="translate(183.75,280.4) scale(0.6,1)" font-size="9.6" fill="#2b2b2b" stroke="#2b2b2b" stroke-width="0.42" letter-spacing="0.32">CA1 (CD5 12%,</text>
<text transform="translate(183.75,291.4) scale(0.6,1)" font-size="9.6" fill="#2b2b2b" stroke="#2b2b2b" stroke-width="0.42" letter-spacing="0.45">CD45 12%, . . .)</text>
<text transform="translate(143.3,248.75) rotate(-90) scale(0.6,1)" font-size="9.6" fill="#2b2b2b" stroke="#2b2b2b" stroke-width="0.42" letter-spacing="0.49">CA2 (CD20 25%,</text>
<text transform="translate(154.5,246.25) rotate(-90) scale(0.6,1)" font-size="9.6" fill="#2b2b2b" stroke="#2b2b2b" stroke-width="0.42" letter-spacing="0.61">CD5 11%, . . .)</text>
<path d="M176.2,219.5 C177.23,218.02 178.73,216.38 180,215.3 C181.27,214.22 182.38,213.52 183.8,213 C185.22,212.48 187.08,212.2 188.5,212.2 C189.92,212.2 191.15,212.35 192.3,213 C193.45,213.65 194.37,214.95 195.4,216.1 C196.43,217.25 197.48,218.68 198.5,219.9 C199.52,221.12 200.55,222.12 201.5,223.4 C202.45,224.68 203.48,226.2 204.2,227.6 C204.92,229 205.47,230.32 205.8,231.8 C206.13,233.28 206.4,235.08 206.2,236.5 C206,237.92 205.38,239.15 204.6,240.3 C203.82,241.45 202.78,242.5 201.5,243.4 C200.22,244.3 198.57,245.13 196.9,245.7 C195.23,246.27 193.17,246.62 191.5,246.8 C189.83,246.98 188.3,247.23 186.9,246.8 C185.5,246.37 184.38,245.28 183.1,244.2 C181.82,243.12 180.62,241.47 179.2,240.3 C177.78,239.13 175.75,238.35 174.6,237.2 C173.45,236.05 172.68,234.8 172.3,233.4 C171.92,232 172.05,230.33 172.3,228.8 C172.55,227.27 173.15,225.75 173.8,224.2 C174.45,222.65 175.17,220.98 176.2,219.5Z" fill="none" stroke="#4a8db5" stroke-width="1.45"/>
<path d="M205.5,224.7 C205.82,223.8 206.43,223.18 207.4,222.4 C208.37,221.62 210.02,220.97 211.3,220 C212.58,219.03 213.82,217.57 215.1,216.6 C216.38,215.63 217.58,214.72 219,214.2 C220.42,213.68 222.05,213.43 223.6,213.5 C225.15,213.57 226.75,214.02 228.3,214.6 C229.85,215.18 231.62,216.1 232.9,217 C234.18,217.9 235.23,218.72 236,220 C236.77,221.28 237.25,223.02 237.5,224.7 C237.75,226.38 237.68,228.43 237.5,230.1 C237.32,231.77 237.03,233.17 236.4,234.7 C235.77,236.23 234.67,237.88 233.7,239.3 C232.73,240.72 231.77,241.78 230.6,243.2 C229.43,244.62 228,246.45 226.7,247.8 C225.4,249.15 224.08,250.58 222.8,251.3 C221.52,252.02 220.15,252.23 219,252.1 C217.85,251.97 216.93,251.33 215.9,250.5 C214.87,249.67 213.83,248.32 212.8,247.1 C211.77,245.88 210.6,244.37 209.7,243.2 C208.8,242.03 207.98,241.25 207.4,240.1 C206.82,238.95 206.45,237.72 206.2,236.3 C205.95,234.88 206.02,233.02 205.9,231.6 C205.78,230.18 205.57,228.95 205.5,227.8 C205.43,226.65 205.18,225.6 205.5,224.7Z" fill="none" stroke="#2f6d62" stroke-width="1.45"/>
<circle cx="196.92" cy="221.42" r="1.75" fill="#dc0f30" stroke="#000" stroke-width="0.7"/>
<circle cx="210.2" cy="221.4" r="1.75" fill="#dc0f30" stroke="#000" stroke-width="0.7"/>
<circle cx="218.5" cy="222.3" r="1.75" fill="#dc0f30" stroke="#000" stroke-width="0.7"/>
<circle cx="214.5" cy="223.8" r="1.75" fill="#dc0f30" stroke="#000" stroke-width="0.7"/>
<circle cx="206.8" cy="228.8" r="1.75" fill="#dc0f30" stroke="#000" stroke-width="0.7"/>
<circle cx="212.6" cy="230.6" r="1.75" fill="#dc0f30" stroke="#000" stroke-width="0.7"/>
<circle cx="213.2" cy="236.5" r="1.75" fill="#dc0f30" stroke="#000" stroke-width="0.7"/>
<circle cx="215.4" cy="238.6" r="1.75" fill="#dc0f30" stroke="#000" stroke-width="0.7"/>
<circle cx="222.5" cy="223.2" r="1.75" fill="#3ccf50" stroke="#000" stroke-width="0.7"/>
<circle cx="226.8" cy="223.5" r="1.75" fill="#3ccf50" stroke="#000" stroke-width="0.7"/>
<circle cx="220.3" cy="225.7" r="1.75" fill="#3ccf50" stroke="#000" stroke-width="0.7"/>
<circle cx="215.7" cy="226.3" r="1.75" fill="#3ccf50" stroke="#000" stroke-width="0.7"/>
<circle cx="223.7" cy="226.9" r="1.75" fill="#3ccf50" stroke="#000" stroke-width="0.7"/>
<circle cx="228.6" cy="226.3" r="1.75" fill="#3ccf50" stroke="#000" stroke-width="0.7"/>
<circle cx="218.8" cy="228.5" r="1.75" fill="#3ccf50" stroke="#000" stroke-width="0.7"/>
<circle cx="215.1" cy="229.4" r="1.75" fill="#3ccf50" stroke="#000" stroke-width="0.7"/>
<circle cx="221.8" cy="229.7" r="1.75" fill="#3ccf50" stroke="#000" stroke-width="0.7"/>
<circle cx="225.5" cy="228.8" r="1.75" fill="#3ccf50" stroke="#000" stroke-width="0.7"/>
<circle cx="227.7" cy="230.6" r="1.75" fill="#3ccf50" stroke="#000" stroke-width="0.7"/>
<circle cx="232" cy="230.3" r="1.75" fill="#3ccf50" stroke="#000" stroke-width="0.7"/>
<circle cx="217.2" cy="231.5" r="1.75" fill="#3ccf50" stroke="#000" stroke-width="0.7"/>
<circle cx="220.9" cy="232.8" r="1.75" fill="#3ccf50" stroke="#000" stroke-width="0.7"/>
<circle cx="223.7" cy="230.9" r="1.75" fill="#3ccf50" stroke="#000" stroke-width="0.7"/>
<circle cx="216" cy="234" r="1.75" fill="#3ccf50" stroke="#000" stroke-width="0.7"/>
<circle cx="224" cy="234.3" r="1.75" fill="#3ccf50" stroke="#000" stroke-width="0.7"/>
<circle cx="227.1" cy="235.2" r="1.75" fill="#3ccf50" stroke="#000" stroke-width="0.7"/>
<circle cx="218.8" cy="235.8" r="1.75" fill="#3ccf50" stroke="#000" stroke-width="0.7"/>
<circle cx="221.8" cy="238" r="1.75" fill="#3ccf50" stroke="#000" stroke-width="0.7"/>
<circle cx="218.2" cy="239.2" r="1.75" fill="#3ccf50" stroke="#000" stroke-width="0.7"/>
<circle cx="223.7" cy="239.5" r="1.75" fill="#3ccf50" stroke="#000" stroke-width="0.7"/>
<circle cx="221.5" cy="242.6" r="1.75" fill="#3ccf50" stroke="#000" stroke-width="0.7"/>
<circle cx="220" cy="233.7" r="1.75" fill="#3ccf50" stroke="#000" stroke-width="0.7"/>
<path d="M289.1,185.25 V269.1 H379.75" fill="none" stroke="#2e2e2e" stroke-width="1.5" stroke-linejoin="round"/>
<path d="M289.1,181.25 L286,186.35 L292.2,186.35 Z" fill="#111"/>
<path d="M383.75,269.1 L378.65,266 L378.65,272.2 Z" fill="#111"/>
<text x="307.5" y="175" font-size="9.8" fill="#1f7a64" stroke="#1f7a64" stroke-width="0.2" textLength="16.27" lengthAdjust="spacingAndGlyphs">CLL</text>
<text x="326.23" y="175" font-size="9.8" fill="#1e1e1e" stroke="#1e1e1e" stroke-width="0.12" textLength="11.33" lengthAdjust="spacingAndGlyphs">vs.</text>
<text x="340.03" y="175" font-size="9.8" fill="#2f6ea6" stroke="#2f6ea6" stroke-width="0.2" textLength="18.72" lengthAdjust="spacingAndGlyphs">MCL</text>
<text transform="translate(330.1,192) scale(0.85,1)" font-size="8.3" fill="#222" stroke="#222" stroke-width="0.1" letter-spacing="0.29">2.0</text>
<text transform="translate(311.25,280.4) scale(0.6,1)" font-size="9.6" fill="#2b2b2b" stroke="#2b2b2b" stroke-width="0.42" letter-spacing="0.31">CA1 (CD200 25%,</text>
<text transform="translate(315.5,291.4) scale(0.6,1)" font-size="9.6" fill="#2b2b2b" stroke="#2b2b2b" stroke-width="0.42" letter-spacing="0.56">IgM 8%, . . .)</text>
<text transform="translate(272.9,248) rotate(-90) scale(0.6,1)" font-size="9.6" fill="#2b2b2b" stroke="#2b2b2b" stroke-width="0.42" letter-spacing="0.39">CA2 (CD20 31%,</text>
<text transform="translate(284.1,247.5) rotate(-90) scale(0.6,1)" font-size="9.6" fill="#2b2b2b" stroke="#2b2b2b" stroke-width="0.42" letter-spacing="0.5">CD19 14%, . . .)</text>
<path d="M309.1,212.1 C309.75,211.37 310.83,210.83 311.9,210.5 C312.97,210.17 314.32,210.07 315.5,210.1 C316.68,210.13 317.83,210.37 319,210.7 C320.17,211.03 321.32,211.45 322.5,212.1 C323.68,212.75 325.15,213.67 326.1,214.6 C327.05,215.53 327.73,216.47 328.2,217.7 C328.67,218.93 328.72,220.58 328.9,222 C329.08,223.42 329.35,224.67 329.3,226.2 C329.25,227.73 328.9,229.65 328.6,231.2 C328.3,232.75 328.03,234.08 327.5,235.5 C326.97,236.92 326.35,238.58 325.4,239.7 C324.45,240.82 322.98,241.67 321.8,242.2 C320.62,242.73 319.42,243.08 318.3,242.9 C317.18,242.72 316.17,241.98 315.1,241.1 C314.03,240.22 312.78,238.9 311.9,237.6 C311.02,236.3 310.38,234.83 309.8,233.3 C309.22,231.77 308.75,230.05 308.4,228.4 C308.05,226.75 307.82,225.05 307.7,223.4 C307.58,221.75 307.65,219.92 307.7,218.5 C307.75,217.08 307.77,215.97 308,214.9 C308.23,213.83 308.45,212.83 309.1,212.1Z" fill="none" stroke="#88aac9" stroke-width="1.45"/>
<path d="M341.4,214.8 C341.85,213.77 342.67,212.67 343.7,211.7 C344.73,210.73 346.3,209.7 347.6,209 C348.9,208.3 350.08,207.75 351.5,207.5 C352.92,207.25 354.82,207.18 356.1,207.5 C357.38,207.82 358.43,208.43 359.2,209.4 C359.97,210.37 360.25,211.88 360.7,213.3 C361.15,214.72 361.57,216.35 361.9,217.9 C362.23,219.45 362.5,221.05 362.7,222.6 C362.9,224.15 363.17,225.67 363.1,227.2 C363.03,228.73 362.75,230.25 362.3,231.8 C361.85,233.35 361.23,235.08 360.4,236.5 C359.57,237.92 358.4,239.02 357.3,240.3 C356.2,241.58 355.03,243.03 353.8,244.2 C352.57,245.37 351.07,246.58 349.9,247.3 C348.73,248.02 347.83,248.63 346.8,248.5 C345.77,248.37 344.53,247.47 343.7,246.5 C342.87,245.53 342.32,244.12 341.8,242.7 C341.28,241.28 340.85,239.55 340.6,238 C340.35,236.45 340.3,235.07 340.3,233.4 C340.3,231.73 340.48,229.8 340.6,228 C340.72,226.2 340.93,224.28 341,222.6 C341.07,220.92 340.93,219.2 341,217.9 C341.07,216.6 340.95,215.83 341.4,214.8Z" fill="none" stroke="#86bfb0" stroke-width="1.45"/>
<circle cx="336.6" cy="212" r="1.75" fill="#dc0f30" stroke="#000" stroke-width="0.7"/>
<circle cx="336.9" cy="218.8" r="1.75" fill="#dc0f30" stroke="#000" stroke-width="0.7"/>
<circle cx="334.5" cy="224.9" r="1.75" fill="#dc0f30" stroke="#000" stroke-width="0.7"/>
<circle cx="347.1" cy="215.7" r="1.75" fill="#dc0f30" stroke="#000" stroke-width="0.7"/>
<circle cx="344" cy="217.5" r="1.75" fill="#dc0f30" stroke="#000" stroke-width="0.7"/>
<circle cx="342.5" cy="220.6" r="1.75" fill="#dc0f30" stroke="#000" stroke-width="0.7"/>
<circle cx="342.2" cy="224.3" r="1.75" fill="#dc0f30" stroke="#000" stroke-width="0.7"/>
<circle cx="352" cy="212.6" r="1.75" fill="#3ccf50" stroke="#000" stroke-width="0.7"/>
<circle cx="351.7" cy="214.2" r="1.75" fill="#3ccf50" stroke="#000" stroke-width="0.7"/>
<circle cx="355.4" cy="216.6" r="1.75" fill="#3ccf50" stroke="#000" stroke-width="0.7"/>
<circle cx="360.6" cy="217.8" r="1.75" fill="#3ccf50" stroke="#000" stroke-width="0.7"/>
<circle cx="350.2" cy="218.2" r="1.75" fill="#3ccf50" stroke="#000" stroke-width="0.7"/>
<circle cx="354.8" cy="219.1" r="1.75" fill="#3ccf50" stroke="#000" stroke-width="0.7"/>
<circle cx="345.8" cy="220.9" r="1.75" fill="#3ccf50" stroke="#000" stroke-width="0.7"/>
<circle cx="352" cy="221.2" r="1.75" fill="#3ccf50" stroke="#000" stroke-width="0.7"/>
<circle cx="357.8" cy="221.2" r="1.75" fill="#3ccf50" stroke="#000" stroke-width="0.7"/>
<circle cx="348.9" cy="222.2" r="1.75" fill="#3ccf50" stroke="#000" stroke-width="0.7"/>
<circle cx="344.3" cy="223.7" r="1.75" fill="#3ccf50" stroke="#000" stroke-width="0.7"/>
<circle cx="347.4" cy="224.6" r="1.75" fill="#3ccf50" stroke="#000" stroke-width="0.7"/>
<circle cx="350.2" cy="225.8" r="1.75" fill="#3ccf50" stroke="#000" stroke-width="0.7"/>
<circle cx="353.8" cy="225.8" r="1.75" fill="#3ccf50" stroke="#000" stroke-width="0.7"/>
<circle cx="356.9" cy="225.2" r="1.75" fill="#3ccf50" stroke="#000" stroke-width="0.7"/>
<circle cx="360.6" cy="224.6" r="1.75" fill="#3ccf50" stroke="#000" stroke-width="0.7"/>
<circle cx="345.2" cy="226.8" r="1.75" fill="#3ccf50" stroke="#000" stroke-width="0.7"/>
<circle cx="347.7" cy="228" r="1.75" fill="#3ccf50" stroke="#000" stroke-width="0.7"/>
<circle cx="349.5" cy="229.5" r="1.75" fill="#3ccf50" stroke="#000" stroke-width="0.7"/>
<circle cx="352" cy="229.2" r="1.75" fill="#3ccf50" stroke="#000" stroke-width="0.7"/>
<circle cx="355.1" cy="229.5" r="1.75" fill="#3ccf50" stroke="#000" stroke-width="0.7"/>
<circle cx="343.4" cy="232.6" r="1.75" fill="#3ccf50" stroke="#000" stroke-width="0.7"/>
<circle cx="347.1" cy="232" r="1.75" fill="#3ccf50" stroke="#000" stroke-width="0.7"/>
<circle cx="350.8" cy="232.6" r="1.75" fill="#3ccf50" stroke="#000" stroke-width="0.7"/>
<circle cx="348.9" cy="234.8" r="1.75" fill="#3ccf50" stroke="#000" stroke-width="0.7"/>
<circle cx="352.3" cy="233.8" r="1.75" fill="#3ccf50" stroke="#000" stroke-width="0.7"/>
<circle cx="344" cy="237.2" r="1.75" fill="#3ccf50" stroke="#000" stroke-width="0.7"/>
<circle cx="345.2" cy="237.5" r="1.75" fill="#3ccf50" stroke="#000" stroke-width="0.7"/>
<circle cx="352.9" cy="241.5" r="1.75" fill="#3ccf50" stroke="#000" stroke-width="0.7"/>
<circle cx="349" cy="220" r="1.75" fill="#3ccf50" stroke="#000" stroke-width="0.7"/>
<circle cx="352.5" cy="224" r="1.75" fill="#3ccf50" stroke="#000" stroke-width="0.7"/>
<circle cx="346" cy="231" r="1.75" fill="#3ccf50" stroke="#000" stroke-width="0.7"/>
<circle cx="354" cy="222.5" r="1.75" fill="#3ccf50" stroke="#000" stroke-width="0.7"/>
<circle cx="350.5" cy="216" r="1.75" fill="#3ccf50" stroke="#000" stroke-width="0.7"/>
<circle cx="357" cy="218.5" r="1.75" fill="#3ccf50" stroke="#000" stroke-width="0.7"/>
<path d="M418.5,185.25 V269.1 H509" fill="none" stroke="#2e2e2e" stroke-width="1.5" stroke-linejoin="round"/>
<path d="M418.5,181.25 L415.4,186.35 L421.6,186.35 Z" fill="#111"/>
<path d="M513,269.1 L507.9,266 L507.9,272.2 Z" fill="#111"/>
<text x="435.5" y="175" font-size="9.8" fill="#1f7a64" stroke="#1f7a64" stroke-width="0.2" textLength="16.26" lengthAdjust="spacingAndGlyphs">CLL</text>
<text x="454.23" y="175" font-size="9.8" fill="#1e1e1e" stroke="#1e1e1e" stroke-width="0.12" textLength="11.33" lengthAdjust="spacingAndGlyphs">vs.</text>
<text x="468.02" y="175" font-size="9.8" fill="#d43550" stroke="#d43550" stroke-width="0.2" textLength="17.73" lengthAdjust="spacingAndGlyphs">MZL</text>
<text transform="translate(459.6,192) scale(0.85,1)" font-size="8.3" fill="#222" stroke="#222" stroke-width="0.1" letter-spacing="0.29">2.0</text>
<text transform="translate(443.75,280.4) scale(0.6,1)" font-size="9.6" fill="#2b2b2b" stroke="#2b2b2b" stroke-width="0.42" letter-spacing="0.32">CA1 (CD5 15%,</text>
<text transform="translate(443,291.4) scale(0.6,1)" font-size="9.6" fill="#2b2b2b" stroke="#2b2b2b" stroke-width="0.42" letter-spacing="0.44">CD19 11%, . . .)</text>
<text transform="translate(402.3,246.25) rotate(-90) scale(0.6,1)" font-size="9.6" fill="#2b2b2b" stroke="#2b2b2b" stroke-width="0.42" letter-spacing="0.39">CA2 (CD5 24%,</text>
<text transform="translate(413.5,247.5) rotate(-90) scale(0.6,1)" font-size="9.6" fill="#2b2b2b" stroke="#2b2b2b" stroke-width="0.42" letter-spacing="0.53">CD20 21%, . . .)</text>
<path d="M437.2,231 C438.02,229.75 439.3,229.03 440.5,228.1 C441.7,227.17 443.2,226.45 444.4,225.4 C445.6,224.35 446.6,222.67 447.7,221.8 C448.8,220.93 449.92,220.47 451,220.2 C452.08,219.93 453.12,219.93 454.2,220.2 C455.28,220.47 456.4,221.03 457.5,221.8 C458.6,222.57 459.93,223.7 460.8,224.8 C461.67,225.9 462.38,227.15 462.7,228.4 C463.02,229.65 462.92,231 462.7,232.3 C462.48,233.6 462.05,235 461.4,236.2 C460.75,237.4 459.88,238.57 458.8,239.5 C457.72,240.43 456.2,241.03 454.9,241.8 C453.6,242.57 452.42,243.4 451,244.1 C449.58,244.8 447.82,245.73 446.4,246 C444.98,246.27 443.7,246.23 442.5,245.7 C441.3,245.17 440.18,243.83 439.2,242.8 C438.22,241.77 437.2,240.7 436.6,239.5 C436,238.3 435.5,237.02 435.6,235.6 C435.7,234.18 436.38,232.25 437.2,231Z" fill="none" stroke="#e08890" stroke-width="1.45"/>
<path d="M468.5,222.5 C469.37,221.57 470.6,219.97 471.8,219.2 C473,218.43 474.38,218.17 475.7,217.9 C477.02,217.63 478.38,217.5 479.7,217.6 C481.02,217.7 482.4,218.02 483.6,218.5 C484.8,218.98 485.82,219.73 486.9,220.5 C487.98,221.27 489.23,222.12 490.1,223.1 C490.97,224.08 491.72,225.2 492.1,226.4 C492.48,227.6 492.52,229 492.4,230.3 C492.28,231.6 491.67,232.88 491.4,234.2 C491.13,235.52 490.95,237 490.8,238.2 C490.65,239.4 490.93,240.43 490.5,241.4 C490.07,242.37 489.13,243.23 488.2,244 C487.27,244.77 486.1,245.45 484.9,246 C483.7,246.55 482.2,247.18 481,247.3 C479.8,247.42 478.68,247.25 477.7,246.7 C476.72,246.15 475.87,245.1 475.1,244 C474.33,242.9 473.75,241.52 473.1,240.1 C472.45,238.68 471.85,237.02 471.2,235.5 C470.55,233.98 469.92,232.42 469.2,231 C468.48,229.58 467.33,228.03 466.9,227 C466.47,225.97 466.33,225.55 466.6,224.8 C466.87,224.05 467.63,223.43 468.5,222.5Z" fill="none" stroke="#86bfb0" stroke-width="1.45"/>
<circle cx="467.2" cy="222.9" r="1.75" fill="#dc0f30" stroke="#000" stroke-width="0.7"/>
<circle cx="467.5" cy="230.4" r="1.75" fill="#dc0f30" stroke="#000" stroke-width="0.7"/>
<circle cx="463.6" cy="236.6" r="1.75" fill="#dc0f30" stroke="#000" stroke-width="0.7"/>
<circle cx="459.6" cy="238.9" r="1.75" fill="#dc0f30" stroke="#000" stroke-width="0.7"/>
<circle cx="471.7" cy="240.2" r="1.75" fill="#dc0f30" stroke="#000" stroke-width="0.7"/>
<circle cx="466.2" cy="243.1" r="1.75" fill="#dc0f30" stroke="#000" stroke-width="0.7"/>
<circle cx="463.6" cy="245.1" r="1.75" fill="#dc0f30" stroke="#000" stroke-width="0.7"/>
<circle cx="472.7" cy="244.1" r="1.75" fill="#dc0f30" stroke="#000" stroke-width="0.7"/>
<circle cx="469.8" cy="246.4" r="1.75" fill="#dc0f30" stroke="#000" stroke-width="0.7"/>
<circle cx="471.7" cy="249" r="1.75" fill="#dc0f30" stroke="#000" stroke-width="0.7"/>
<circle cx="478.9" cy="247.1" r="1.75" fill="#dc0f30" stroke="#000" stroke-width="0.7"/>
<circle cx="470.4" cy="221.6" r="1.75" fill="#3ccf50" stroke="#000" stroke-width="0.7"/>
<circle cx="482.5" cy="220.9" r="1.75" fill="#3ccf50" stroke="#000" stroke-width="0.7"/>
<circle cx="468.1" cy="225.2" r="1.75" fill="#3ccf50" stroke="#000" stroke-width="0.7"/>
<circle cx="471.1" cy="226.1" r="1.75" fill="#3ccf50" stroke="#000" stroke-width="0.7"/>
<circle cx="473.7" cy="224.2" r="1.75" fill="#3ccf50" stroke="#000" stroke-width="0.7"/>
<circle cx="475.7" cy="222.9" r="1.75" fill="#3ccf50" stroke="#000" stroke-width="0.7"/>
<circle cx="479.3" cy="224.5" r="1.75" fill="#3ccf50" stroke="#000" stroke-width="0.7"/>
<circle cx="469.8" cy="229.1" r="1.75" fill="#3ccf50" stroke="#000" stroke-width="0.7"/>
<circle cx="473.7" cy="229.4" r="1.75" fill="#3ccf50" stroke="#000" stroke-width="0.7"/>
<circle cx="476.6" cy="227.8" r="1.75" fill="#3ccf50" stroke="#000" stroke-width="0.7"/>
<circle cx="480.2" cy="228.1" r="1.75" fill="#3ccf50" stroke="#000" stroke-width="0.7"/>
<circle cx="483.2" cy="227.8" r="1.75" fill="#3ccf50" stroke="#000" stroke-width="0.7"/>
<circle cx="475.7" cy="231.4" r="1.75" fill="#3ccf50" stroke="#000" stroke-width="0.7"/>
<circle cx="479.6" cy="230.7" r="1.75" fill="#3ccf50" stroke="#000" stroke-width="0.7"/>
<circle cx="483.5" cy="230.1" r="1.75" fill="#3ccf50" stroke="#000" stroke-width="0.7"/>
<circle cx="474" cy="234" r="1.75" fill="#3ccf50" stroke="#000" stroke-width="0.7"/>
<circle cx="477.3" cy="233.3" r="1.75" fill="#3ccf50" stroke="#000" stroke-width="0.7"/>
<circle cx="480.9" cy="233" r="1.75" fill="#3ccf50" stroke="#000" stroke-width="0.7"/>
<circle cx="482.9" cy="233.3" r="1.75" fill="#3ccf50" stroke="#000" stroke-width="0.7"/>
<circle cx="486.1" cy="232" r="1.75" fill="#3ccf50" stroke="#000" stroke-width="0.7"/>
<circle cx="488.4" cy="233.3" r="1.75" fill="#3ccf50" stroke="#000" stroke-width="0.7"/>
<circle cx="476.6" cy="237.6" r="1.75" fill="#3ccf50" stroke="#000" stroke-width="0.7"/>
<circle cx="479.3" cy="236" r="1.75" fill="#3ccf50" stroke="#000" stroke-width="0.7"/>
<circle cx="482.2" cy="237.3" r="1.75" fill="#3ccf50" stroke="#000" stroke-width="0.7"/>
<circle cx="485.5" cy="235.3" r="1.75" fill="#3ccf50" stroke="#000" stroke-width="0.7"/>
<circle cx="488.4" cy="237.9" r="1.75" fill="#3ccf50" stroke="#000" stroke-width="0.7"/>
<circle cx="478.3" cy="239.5" r="1.75" fill="#3ccf50" stroke="#000" stroke-width="0.7"/>
<circle cx="484.2" cy="240.5" r="1.75" fill="#3ccf50" stroke="#000" stroke-width="0.7"/>
<circle cx="486.8" cy="241.2" r="1.75" fill="#3ccf50" stroke="#000" stroke-width="0.7"/>
<circle cx="481.2" cy="243.1" r="1.75" fill="#3ccf50" stroke="#000" stroke-width="0.7"/>
<circle cx="484.8" cy="238.6" r="1.75" fill="#3ccf50" stroke="#000" stroke-width="0.7"/>
<path d="M30,347.5 V431.2 H120.5" fill="none" stroke="#2e2e2e" stroke-width="1.5" stroke-linejoin="round"/>
<path d="M30,343.5 L26.9,348.6 L33.1,348.6 Z" fill="#111"/>
<path d="M124.5,431.2 L119.4,428.1 L119.4,434.3 Z" fill="#111"/>
<text x="54.5" y="337" font-size="9.8" fill="#2a5f96" stroke="#2a5f96" stroke-width="0.2" textLength="18.59" lengthAdjust="spacingAndGlyphs">MCL</text>
<text x="75.53" y="337" font-size="9.8" fill="#1e1e1e" stroke="#1e1e1e" stroke-width="0.12" textLength="11.25" lengthAdjust="spacingAndGlyphs">vs.</text>
<text x="89.23" y="337" font-size="9.8" fill="#4bb651" stroke="#4bb651" stroke-width="0.2" textLength="10.77" lengthAdjust="spacingAndGlyphs">BL</text>
<text transform="translate(72.1,355) scale(0.85,1)" font-size="8.3" fill="#222" stroke="#222" stroke-width="0.1" letter-spacing="0.29">2.5</text>
<text transform="translate(54,442.8) scale(0.6,1)" font-size="9.6" fill="#2b2b2b" stroke="#2b2b2b" stroke-width="0.42" letter-spacing="0.36">CA1 (CD10 26%,</text>
<text transform="translate(54.5,454) scale(0.6,1)" font-size="9.6" fill="#2b2b2b" stroke="#2b2b2b" stroke-width="0.42" letter-spacing="0.5">CD45 18%, . . .)</text>
<text transform="translate(13.8,415) rotate(-90) scale(0.6,1)" font-size="9.6" fill="#2b2b2b" stroke="#2b2b2b" stroke-width="0.42" letter-spacing="0.62">CA2 (CD45 19%,</text>
<text transform="translate(25,411) rotate(-90) scale(0.6,1)" font-size="9.6" fill="#2b2b2b" stroke="#2b2b2b" stroke-width="0.42" letter-spacing="0.38">CD5 12%, . . .)</text>
<path d="M48.4,386.4 C49.22,385.5 50.52,384.32 51.7,383.5 C52.88,382.68 54.22,381.93 55.5,381.5 C56.78,381.07 58.12,380.9 59.4,380.9 C60.68,380.9 62.13,381.07 63.2,381.5 C64.27,381.93 65.1,382.68 65.8,383.5 C66.5,384.32 66.97,385.28 67.4,386.4 C67.83,387.52 68.18,388.82 68.4,390.2 C68.62,391.58 68.7,393.2 68.7,394.7 C68.7,396.2 68.62,397.8 68.4,399.2 C68.18,400.6 67.93,401.92 67.4,403.1 C66.87,404.28 66.1,405.33 65.2,406.3 C64.3,407.27 63.08,408.15 62,408.9 C60.92,409.65 59.88,410.1 58.7,410.8 C57.52,411.5 56.18,412.45 54.9,413.1 C53.62,413.75 52.18,414.6 51,414.7 C49.82,414.8 48.72,414.35 47.8,413.7 C46.88,413.05 46.08,411.92 45.5,410.8 C44.92,409.68 44.57,408.38 44.3,407 C44.03,405.62 43.85,404.12 43.9,402.5 C43.95,400.88 44.27,399.02 44.6,397.3 C44.93,395.58 45.53,393.6 45.9,392.2 C46.27,390.8 46.38,389.87 46.8,388.9 C47.22,387.93 47.58,387.3 48.4,386.4Z" fill="none" stroke="#3a5a7c" stroke-width="1.45"/>
<path d="M73,384.8 C73.55,383.57 74.47,382.22 75.2,381.1 C75.93,379.98 76.53,379.08 77.4,378.1 C78.27,377.12 79.28,375.83 80.4,375.2 C81.52,374.57 82.87,374.3 84.1,374.3 C85.33,374.3 86.45,374.62 87.8,375.2 C89.15,375.78 90.78,376.93 92.2,377.8 C93.62,378.67 95.32,379.48 96.3,380.4 C97.28,381.32 97.6,382.07 98.1,383.3 C98.6,384.53 98.92,386.32 99.3,387.8 C99.68,389.28 100.17,390.6 100.4,392.2 C100.63,393.8 100.58,395.67 100.7,397.4 C100.82,399.13 101.03,400.87 101.1,402.6 C101.17,404.33 101.35,406.32 101.1,407.8 C100.85,409.28 100.47,410.63 99.6,411.5 C98.73,412.37 97.25,412.7 95.9,413 C94.55,413.3 92.98,413.55 91.5,413.3 C90.02,413.05 88.48,412.17 87,411.5 C85.52,410.83 83.83,410.28 82.6,409.3 C81.37,408.32 80.35,406.97 79.6,405.6 C78.85,404.23 78.58,402.58 78.1,401.1 C77.62,399.62 77.25,398.05 76.7,396.7 C76.15,395.35 75.48,394 74.8,393 C74.12,392 73.08,391.45 72.6,390.7 C72.12,389.95 71.83,389.48 71.9,388.5 C71.97,387.52 72.45,386.03 73,384.8Z" fill="none" stroke="#4a9155" stroke-width="1.45"/>
<circle cx="74.32" cy="387.9" r="1.75" fill="#dc0f30" stroke="#000" stroke-width="0.7"/>
<circle cx="75.26" cy="398.94" r="1.75" fill="#dc0f30" stroke="#000" stroke-width="0.7"/>
<circle cx="71.63" cy="407.69" r="1.75" fill="#dc0f30" stroke="#000" stroke-width="0.7"/>
<circle cx="62.25" cy="395" r="1.75" fill="#dc0f30" stroke="#000" stroke-width="0.7"/>
<circle cx="66.5" cy="400.5" r="1.75" fill="#dc0f30" stroke="#000" stroke-width="0.7"/>
<circle cx="59.5" cy="399.5" r="1.75" fill="#dc0f30" stroke="#000" stroke-width="0.7"/>
<circle cx="59.5" cy="388.75" r="1.75" fill="#1c5e9e" stroke="#000" stroke-width="0.7"/>
<circle cx="57.75" cy="391.5" r="1.75" fill="#1c5e9e" stroke="#000" stroke-width="0.7"/>
<circle cx="60.5" cy="392.25" r="1.75" fill="#1c5e9e" stroke="#000" stroke-width="0.7"/>
<circle cx="54.75" cy="393.25" r="1.75" fill="#1c5e9e" stroke="#000" stroke-width="0.7"/>
<circle cx="64.25" cy="393" r="1.75" fill="#1c5e9e" stroke="#000" stroke-width="0.7"/>
<circle cx="56.5" cy="395" r="1.75" fill="#1c5e9e" stroke="#000" stroke-width="0.7"/>
<circle cx="59.5" cy="394.75" r="1.75" fill="#1c5e9e" stroke="#000" stroke-width="0.7"/>
<circle cx="52.25" cy="396.75" r="1.75" fill="#1c5e9e" stroke="#000" stroke-width="0.7"/>
<circle cx="55" cy="398" r="1.75" fill="#1c5e9e" stroke="#000" stroke-width="0.7"/>
<circle cx="58.75" cy="397" r="1.75" fill="#1c5e9e" stroke="#000" stroke-width="0.7"/>
<circle cx="61.25" cy="398" r="1.75" fill="#1c5e9e" stroke="#000" stroke-width="0.7"/>
<circle cx="48" cy="399.5" r="1.75" fill="#1c5e9e" stroke="#000" stroke-width="0.7"/>
<circle cx="56.75" cy="400" r="1.75" fill="#1c5e9e" stroke="#000" stroke-width="0.7"/>
<circle cx="57.5" cy="401.75" r="1.75" fill="#1c5e9e" stroke="#000" stroke-width="0.7"/>
<circle cx="62" cy="402.5" r="1.75" fill="#1c5e9e" stroke="#000" stroke-width="0.7"/>
<circle cx="54.25" cy="403" r="1.75" fill="#1c5e9e" stroke="#000" stroke-width="0.7"/>
<circle cx="55" cy="405" r="1.75" fill="#1c5e9e" stroke="#000" stroke-width="0.7"/>
<circle cx="56.75" cy="407.5" r="1.75" fill="#1c5e9e" stroke="#000" stroke-width="0.7"/>
<circle cx="59" cy="400.5" r="1.75" fill="#1c5e9e" stroke="#000" stroke-width="0.7"/>
<path d="M159.5,347.5 V431.2 H250.75" fill="none" stroke="#2e2e2e" stroke-width="1.5" stroke-linejoin="round"/>
<path d="M159.5,343.5 L156.4,348.6 L162.6,348.6 Z" fill="#111"/>
<path d="M254.75,431.2 L249.65,428.1 L249.65,434.3 Z" fill="#111"/>
<text x="181.25" y="337" font-size="9.8" fill="#2f6ea6" stroke="#2f6ea6" stroke-width="0.2" textLength="18.54" lengthAdjust="spacingAndGlyphs">MCL</text>
<text x="202.23" y="337" font-size="9.8" fill="#1e1e1e" stroke="#1e1e1e" stroke-width="0.12" textLength="11.22" lengthAdjust="spacingAndGlyphs">vs.</text>
<text x="215.89" y="337" font-size="9.8" fill="#2a8a6e" stroke="#2a8a6e" stroke-width="0.2" textLength="16.11" lengthAdjust="spacingAndGlyphs">CLL</text>
<text transform="translate(201.85,355) scale(0.85,1)" font-size="8.3" fill="#222" stroke="#222" stroke-width="0.1" letter-spacing="-0">2.0</text>
<text transform="translate(181.25,442.8) scale(0.6,1)" font-size="9.6" fill="#2b2b2b" stroke="#2b2b2b" stroke-width="0.42" letter-spacing="0.4">CA1 (CD200 25%,</text>
<text transform="translate(185.5,454) scale(0.6,1)" font-size="9.6" fill="#2b2b2b" stroke="#2b2b2b" stroke-width="0.42" letter-spacing="0.88">IgM 8%, . . .)</text>
<text transform="translate(143.3,413.75) rotate(-90) scale(0.6,1)" font-size="9.6" fill="#2b2b2b" stroke="#2b2b2b" stroke-width="0.42" letter-spacing="0.43">CA2 (CD20 31%,</text>
<text transform="translate(154.5,411.25) rotate(-90) scale(0.6,1)" font-size="9.6" fill="#2b2b2b" stroke="#2b2b2b" stroke-width="0.42" letter-spacing="0.6">CD19 14%, ..)</text>
<path d="M177.8,379.1 C178.33,378.13 179.43,377.13 180.4,376.5 C181.37,375.87 182.42,375.52 183.6,375.3 C184.78,375.08 186.22,375 187.5,375.2 C188.78,375.4 190.13,375.85 191.3,376.5 C192.47,377.15 193.58,378.13 194.5,379.1 C195.42,380.07 196.25,381.02 196.8,382.3 C197.35,383.58 197.58,385.3 197.8,386.8 C198.02,388.3 198.1,389.8 198.1,391.3 C198.1,392.8 198.02,394.3 197.8,395.8 C197.58,397.3 197.23,399 196.8,400.3 C196.37,401.6 195.9,402.63 195.2,403.6 C194.5,404.57 193.57,405.47 192.6,406.1 C191.63,406.73 190.47,407.23 189.4,407.4 C188.33,407.57 187.28,407.53 186.2,407.1 C185.12,406.67 183.87,405.82 182.9,404.8 C181.93,403.78 181.15,402.38 180.4,401 C179.65,399.62 178.88,398.12 178.4,396.5 C177.92,394.88 177.7,392.92 177.5,391.3 C177.3,389.68 177.25,388.3 177.2,386.8 C177.15,385.3 177.1,383.58 177.2,382.3 C177.3,381.02 177.27,380.07 177.8,379.1Z" fill="none" stroke="#7ea2c6" stroke-width="1.45"/>
<path d="M210.4,379.9 C210.82,378.53 211.57,377.65 212.5,376.7 C213.43,375.75 214.7,374.85 216,374.2 C217.3,373.55 219,373.03 220.3,372.8 C221.6,372.57 222.73,372.5 223.8,372.8 C224.87,373.1 225.98,373.77 226.7,374.6 C227.42,375.43 227.75,376.57 228.1,377.8 C228.45,379.03 228.52,380.47 228.8,382 C229.08,383.53 229.45,385.22 229.8,387 C230.15,388.78 230.83,391.05 230.9,392.7 C230.97,394.35 230.67,395.73 230.2,396.9 C229.73,398.07 228.93,398.63 228.1,399.7 C227.27,400.77 226.27,402.12 225.2,403.3 C224.13,404.48 222.87,405.75 221.7,406.8 C220.53,407.85 219.27,408.77 218.2,409.6 C217.13,410.43 216.25,411.8 215.3,411.8 C214.35,411.8 213.38,410.67 212.5,409.6 C211.62,408.53 210.58,406.8 210,405.4 C209.42,404 209.05,402.73 209,401.2 C208.95,399.67 209.53,397.98 209.7,396.2 C209.87,394.42 209.95,392.38 210,390.5 C210.05,388.62 209.93,386.67 210,384.9 C210.07,383.13 209.98,381.27 210.4,379.9Z" fill="none" stroke="#86bfb0" stroke-width="1.45"/>
<circle cx="204.72" cy="384.15" r="1.75" fill="#dc0f30" stroke="#000" stroke-width="0.7"/>
<circle cx="207.95" cy="383.07" r="1.75" fill="#dc0f30" stroke="#000" stroke-width="0.7"/>
<circle cx="185.1" cy="390.1" r="1.75" fill="#dc0f30" stroke="#000" stroke-width="0.7"/>
<circle cx="191.7" cy="393" r="1.75" fill="#dc0f30" stroke="#000" stroke-width="0.7"/>
<circle cx="187.8" cy="396.8" r="1.75" fill="#dc0f30" stroke="#000" stroke-width="0.7"/>
<circle cx="191" cy="401.3" r="1.75" fill="#dc0f30" stroke="#000" stroke-width="0.7"/>
<circle cx="182.8" cy="382.4" r="1.75" fill="#1c5e9e" stroke="#000" stroke-width="0.7"/>
<circle cx="185.5" cy="382" r="1.75" fill="#1c5e9e" stroke="#000" stroke-width="0.7"/>
<circle cx="188.7" cy="381.4" r="1.75" fill="#1c5e9e" stroke="#000" stroke-width="0.7"/>
<circle cx="180.2" cy="385.2" r="1.75" fill="#1c5e9e" stroke="#000" stroke-width="0.7"/>
<circle cx="183.8" cy="385.8" r="1.75" fill="#1c5e9e" stroke="#000" stroke-width="0.7"/>
<circle cx="186.8" cy="385" r="1.75" fill="#1c5e9e" stroke="#000" stroke-width="0.7"/>
<circle cx="192.7" cy="385.2" r="1.75" fill="#1c5e9e" stroke="#000" stroke-width="0.7"/>
<circle cx="186.2" cy="387.3" r="1.75" fill="#1c5e9e" stroke="#000" stroke-width="0.7"/>
<circle cx="189.5" cy="387.5" r="1.75" fill="#1c5e9e" stroke="#000" stroke-width="0.7"/>
<circle cx="187.4" cy="389.4" r="1.75" fill="#1c5e9e" stroke="#000" stroke-width="0.7"/>
<circle cx="193.6" cy="389.2" r="1.75" fill="#1c5e9e" stroke="#000" stroke-width="0.7"/>
<circle cx="181.1" cy="387.1" r="1.75" fill="#1c5e9e" stroke="#000" stroke-width="0.7"/>
<circle cx="188.7" cy="392" r="1.75" fill="#1c5e9e" stroke="#000" stroke-width="0.7"/>
<circle cx="185.7" cy="395.1" r="1.75" fill="#1c5e9e" stroke="#000" stroke-width="0.7"/>
<circle cx="189.5" cy="394.7" r="1.75" fill="#1c5e9e" stroke="#000" stroke-width="0.7"/>
<circle cx="193.3" cy="394.1" r="1.75" fill="#1c5e9e" stroke="#000" stroke-width="0.7"/>
<circle cx="184.2" cy="394.3" r="1.75" fill="#1c5e9e" stroke="#000" stroke-width="0.7"/>
<circle cx="191.2" cy="397" r="1.75" fill="#1c5e9e" stroke="#000" stroke-width="0.7"/>
<circle cx="183.2" cy="398.7" r="1.75" fill="#1c5e9e" stroke="#000" stroke-width="0.7"/>
<circle cx="187.4" cy="400.8" r="1.75" fill="#1c5e9e" stroke="#000" stroke-width="0.7"/>
<circle cx="189.5" cy="399.2" r="1.75" fill="#1c5e9e" stroke="#000" stroke-width="0.7"/>
<circle cx="192.9" cy="399.6" r="1.75" fill="#1c5e9e" stroke="#000" stroke-width="0.7"/>
<circle cx="191" cy="390.3" r="1.75" fill="#1c5e9e" stroke="#000" stroke-width="0.7"/>
<path d="M289.1,347.5 V431.2 H379.75" fill="none" stroke="#2e2e2e" stroke-width="1.5" stroke-linejoin="round"/>
<path d="M289.1,343.5 L286,348.6 L292.2,348.6 Z" fill="#111"/>
<path d="M383.75,431.2 L378.65,428.1 L378.65,434.3 Z" fill="#111"/>
<text x="288.25" y="337" font-size="9.8" fill="#2a64a0" stroke="#2a64a0" stroke-width="0.2" textLength="19.2" lengthAdjust="spacingAndGlyphs">MCL</text>
<text x="309.97" y="337" font-size="9.8" fill="#1e1e1e" stroke="#1e1e1e" stroke-width="0.12" textLength="11.62" lengthAdjust="spacingAndGlyphs">vs.</text>
<text x="324.12" y="337" font-size="9.8" fill="#f4b942" stroke="#f4b942" stroke-width="0.2" textLength="23.25" lengthAdjust="spacingAndGlyphs">CD10</text>
<rect x="348.07" y="330.45" width="3.7" height="1.1" fill="#f4b942"/>
<text x="354.44" y="337" font-size="9.8" fill="#f4b942" stroke="#f4b942" stroke-width="0.2" textLength="29.31" lengthAdjust="spacingAndGlyphs">DLBCL</text>
<text transform="translate(330.6,355) scale(0.85,1)" font-size="8.3" fill="#222" stroke="#222" stroke-width="0.1" letter-spacing="0.44">2.0</text>
<text transform="translate(311.25,442.8) scale(0.6,1)" font-size="9.6" fill="#2b2b2b" stroke="#2b2b2b" stroke-width="0.42" letter-spacing="0.31">CA1 (CD200 13%,</text>
<text transform="translate(313.25,454) scale(0.6,1)" font-size="9.6" fill="#2b2b2b" stroke="#2b2b2b" stroke-width="0.42" letter-spacing="0.49">CD95 11%, . . .)</text>
<text transform="translate(272.9,413) rotate(-90) scale(0.6,1)" font-size="9.6" fill="#2b2b2b" stroke="#2b2b2b" stroke-width="0.42" letter-spacing="0.33">CA2 (CD95 20%,</text>
<text transform="translate(284.1,411.25) rotate(-90) scale(0.6,1)" font-size="9.6" fill="#2b2b2b" stroke="#2b2b2b" stroke-width="0.42" letter-spacing="0.35">CD5 19%, . . .)</text>
<path d="M316.7,374.5 C317.77,373.57 318.65,372.35 319.6,371.7 C320.55,371.05 321.47,370.72 322.4,370.6 C323.33,370.48 324.25,370.65 325.2,371 C326.15,371.35 327.27,371.88 328.1,372.7 C328.93,373.52 329.73,374.65 330.2,375.9 C330.67,377.15 330.78,378.67 330.9,380.2 C331.02,381.73 330.83,383.45 330.9,385.1 C330.97,386.75 331.37,388.57 331.3,390.1 C331.23,391.63 330.92,392.88 330.5,394.3 C330.08,395.72 329.43,397.3 328.8,398.6 C328.17,399.9 327.42,401.05 326.7,402.1 C325.98,403.15 325.22,404.25 324.5,404.9 C323.78,405.55 323.22,406.05 322.4,406 C321.58,405.95 320.67,405.25 319.6,404.6 C318.53,403.95 317.18,403.1 316,402.1 C314.82,401.1 313.55,399.9 312.5,398.6 C311.45,397.3 310.42,395.83 309.7,394.3 C308.98,392.77 308.38,391.05 308.2,389.4 C308.02,387.75 308.23,385.93 308.6,384.4 C308.97,382.87 309.63,381.38 310.4,380.2 C311.17,379.02 312.15,378.25 313.2,377.3 C314.25,376.35 315.63,375.43 316.7,374.5Z" fill="none" stroke="#7ea2c6" stroke-width="1.45"/>
<path d="M334.1,370.7 C334.75,369.68 335.55,368.03 336.7,367.2 C337.85,366.37 339.7,365.77 341,365.7 C342.3,365.63 343.33,366.03 344.5,366.8 C345.67,367.57 346.83,368.93 348,370.3 C349.17,371.67 350.55,373.48 351.5,375 C352.45,376.52 353.27,377.8 353.7,379.4 C354.13,381 354.18,382.72 354.1,384.6 C354.02,386.48 353.5,388.67 353.2,390.7 C352.9,392.73 352.58,394.92 352.3,396.8 C352.02,398.68 352,400.27 351.5,402 C351,403.73 350.32,405.68 349.3,407.2 C348.28,408.72 346.78,410.45 345.4,411.1 C344.02,411.75 342.23,411.6 341,411.1 C339.77,410.6 338.72,409.33 338,408.1 C337.28,406.87 337.07,405.15 336.7,403.7 C336.33,402.25 336.3,400.7 335.8,399.4 C335.3,398.1 334.35,397.07 333.7,395.9 C333.05,394.73 332.27,393.7 331.9,392.4 C331.53,391.1 331.57,389.68 331.5,388.1 C331.43,386.52 331.43,384.78 331.5,382.9 C331.57,381.02 331.68,378.4 331.9,376.8 C332.12,375.2 332.43,374.32 332.8,373.3 C333.17,372.28 333.45,371.72 334.1,370.7Z" fill="none" stroke="#fad582" stroke-width="1.45"/>
<circle cx="338.69" cy="379.31" r="1.75" fill="#dc0f30" stroke="#000" stroke-width="0.7"/>
<circle cx="322.19" cy="405.84" r="1.75" fill="#dc0f30" stroke="#000" stroke-width="0.7"/>
<circle cx="330" cy="375" r="1.75" fill="#dc0f30" stroke="#000" stroke-width="0.7"/>
<circle cx="327.25" cy="380.25" r="1.75" fill="#dc0f30" stroke="#000" stroke-width="0.7"/>
<circle cx="317" cy="383" r="1.75" fill="#dc0f30" stroke="#000" stroke-width="0.7"/>
<circle cx="333.5" cy="389.5" r="1.75" fill="#dc0f30" stroke="#000" stroke-width="0.7"/>
<circle cx="317.75" cy="380.5" r="1.75" fill="#1c5e9e" stroke="#000" stroke-width="0.7"/>
<circle cx="328" cy="377.5" r="1.75" fill="#1c5e9e" stroke="#000" stroke-width="0.7"/>
<circle cx="319.75" cy="382.75" r="1.75" fill="#1c5e9e" stroke="#000" stroke-width="0.7"/>
<circle cx="323.25" cy="383.75" r="1.75" fill="#1c5e9e" stroke="#000" stroke-width="0.7"/>
<circle cx="326.5" cy="384.5" r="1.75" fill="#1c5e9e" stroke="#000" stroke-width="0.7"/>
<circle cx="329.25" cy="385.25" r="1.75" fill="#1c5e9e" stroke="#000" stroke-width="0.7"/>
<circle cx="317.75" cy="385.75" r="1.75" fill="#1c5e9e" stroke="#000" stroke-width="0.7"/>
<circle cx="320.75" cy="386" r="1.75" fill="#1c5e9e" stroke="#000" stroke-width="0.7"/>
<circle cx="325" cy="386.5" r="1.75" fill="#1c5e9e" stroke="#000" stroke-width="0.7"/>
<circle cx="328" cy="387" r="1.75" fill="#1c5e9e" stroke="#000" stroke-width="0.7"/>
<circle cx="315.5" cy="389" r="1.75" fill="#1c5e9e" stroke="#000" stroke-width="0.7"/>
<circle cx="319" cy="388.5" r="1.75" fill="#1c5e9e" stroke="#000" stroke-width="0.7"/>
<circle cx="322.5" cy="388.5" r="1.75" fill="#1c5e9e" stroke="#000" stroke-width="0.7"/>
<circle cx="324.5" cy="389.5" r="1.75" fill="#1c5e9e" stroke="#000" stroke-width="0.7"/>
<circle cx="313.25" cy="390.25" r="1.75" fill="#1c5e9e" stroke="#000" stroke-width="0.7"/>
<circle cx="316.5" cy="391.5" r="1.75" fill="#1c5e9e" stroke="#000" stroke-width="0.7"/>
<circle cx="319.5" cy="392.25" r="1.75" fill="#1c5e9e" stroke="#000" stroke-width="0.7"/>
<circle cx="324.25" cy="392.25" r="1.75" fill="#1c5e9e" stroke="#000" stroke-width="0.7"/>
<circle cx="315.5" cy="394" r="1.75" fill="#1c5e9e" stroke="#000" stroke-width="0.7"/>
<circle cx="318.75" cy="395.5" r="1.75" fill="#1c5e9e" stroke="#000" stroke-width="0.7"/>
<circle cx="317" cy="396" r="1.75" fill="#1c5e9e" stroke="#000" stroke-width="0.7"/>
<circle cx="319.25" cy="397" r="1.75" fill="#1c5e9e" stroke="#000" stroke-width="0.7"/>
<circle cx="322" cy="390.5" r="1.75" fill="#1c5e9e" stroke="#000" stroke-width="0.7"/>
<circle cx="321.75" cy="391.25" r="1.75" fill="#dc0f30" stroke="#000" stroke-width="0.7"/>
<path d="M418.5,347.5 V431.2 H502.6" fill="none" stroke="#2e2e2e" stroke-width="1.5" stroke-linejoin="round"/>
<path d="M418.5,343.5 L415.4,348.6 L421.6,348.6 Z" fill="#111"/>
<path d="M506.6,431.2 L501.5,428.1 L501.5,434.3 Z" fill="#111"/>
<text x="414.25" y="337" font-size="9.8" fill="#2a64a0" stroke="#2a64a0" stroke-width="0.2" textLength="19.35" lengthAdjust="spacingAndGlyphs">MCL</text>
<text x="436.14" y="337" font-size="9.8" fill="#1e1e1e" stroke="#1e1e1e" stroke-width="0.12" textLength="11.71" lengthAdjust="spacingAndGlyphs">vs.</text>
<text x="450.4" y="337" font-size="9.8" fill="#d49a62" stroke="#d49a62" stroke-width="0.2" textLength="23.43" lengthAdjust="spacingAndGlyphs">CD10</text>
<rect x="474.53" y="330.45" width="3.7" height="1.1" fill="#d49a62"/>
<rect x="475.83" y="329.15" width="1.1" height="3.7" fill="#d49a62"/>
<text x="480.96" y="337" font-size="9.8" fill="#d49a62" stroke="#d49a62" stroke-width="0.2" textLength="29.54" lengthAdjust="spacingAndGlyphs">DLBCL</text>
<text transform="translate(457.6,355) scale(0.85,1)" font-size="8.3" fill="#222" stroke="#222" stroke-width="0.1" letter-spacing="0.29">2.0</text>
<text transform="translate(438.75,442.8) scale(0.6,1)" font-size="9.6" fill="#2b2b2b" stroke="#2b2b2b" stroke-width="0.42" letter-spacing="0.43">CA1 (CD10 24%,</text>
<text transform="translate(439.5,454) scale(0.6,1)" font-size="9.6" fill="#2b2b2b" stroke="#2b2b2b" stroke-width="0.42" letter-spacing="0.5">CD95 12%, . . .)</text>
<text transform="translate(402.3,413) rotate(-90) scale(0.6,1)" font-size="9.6" fill="#2b2b2b" stroke="#2b2b2b" stroke-width="0.42" letter-spacing="0.33">CA2 (CD19 90%,</text>
<text transform="translate(413.5,411.25) rotate(-90) scale(0.6,1)" font-size="9.6" fill="#2b2b2b" stroke="#2b2b2b" stroke-width="0.42" letter-spacing="0.35">CD10 3%, . . .)</text>
<path d="M438.9,392.7 C439.67,391.78 440.73,390.62 441.8,389.8 C442.87,388.98 444.15,388.33 445.3,387.8 C446.45,387.27 447.55,386.8 448.7,386.6 C449.85,386.4 451.13,386.35 452.2,386.6 C453.27,386.85 454.23,387.37 455.1,388.1 C455.97,388.83 456.83,389.95 457.4,391 C457.97,392.05 458.32,393.25 458.5,394.4 C458.68,395.55 458.63,396.73 458.5,397.9 C458.37,399.07 458.08,400.35 457.7,401.4 C457.32,402.45 456.83,403.35 456.2,404.2 C455.57,405.05 454.85,405.82 453.9,406.5 C452.95,407.18 451.65,407.87 450.5,408.3 C449.35,408.73 448.17,409 447,409.1 C445.83,409.2 444.65,409.13 443.5,408.9 C442.35,408.67 441.05,408.28 440.1,407.7 C439.15,407.12 438.38,406.37 437.8,405.4 C437.22,404.43 436.85,403.05 436.6,401.9 C436.35,400.75 436.2,399.6 436.3,398.5 C436.4,397.4 436.77,396.27 437.2,395.3 C437.63,394.33 438.13,393.62 438.9,392.7Z" fill="none" stroke="#7ea2c6" stroke-width="1.45"/>
<path d="M463.4,391.8 C463.98,390.9 464.68,389.82 465.7,388.8 C466.72,387.78 468.22,386.53 469.5,385.7 C470.78,384.87 472.12,384.25 473.4,383.8 C474.68,383.35 475.8,383 477.2,383 C478.6,383 480.38,383.42 481.8,383.8 C483.22,384.18 484.42,385.05 485.7,385.3 C486.98,385.55 488.35,385.1 489.5,385.3 C490.65,385.5 491.82,385.8 492.6,386.5 C493.38,387.2 493.88,388.35 494.2,389.5 C494.52,390.65 494.63,392.12 494.5,393.4 C494.37,394.68 493.97,396.05 493.4,397.2 C492.83,398.35 491.62,399.13 491.1,400.3 C490.58,401.47 490.57,402.78 490.3,404.2 C490.03,405.62 489.75,407.4 489.5,408.8 C489.25,410.2 489.3,411.45 488.8,412.6 C488.3,413.75 487.4,415.12 486.5,415.7 C485.6,416.28 484.57,416.23 483.4,416.1 C482.23,415.97 480.78,415.35 479.5,414.9 C478.22,414.45 476.98,414.03 475.7,413.4 C474.42,412.77 472.95,412 471.8,411.1 C470.65,410.2 469.68,409.03 468.8,408 C467.92,406.97 467.27,406.05 466.5,404.9 C465.73,403.75 464.92,402.38 464.2,401.1 C463.48,399.82 462.53,398.35 462.2,397.2 C461.87,396.05 462,395.1 462.2,394.2 C462.4,393.3 462.82,392.7 463.4,391.8Z" fill="none" stroke="#dbb088" stroke-width="1.45"/>
<circle cx="458.92" cy="400.5" r="1.75" fill="#dc0f30" stroke="#000" stroke-width="0.7"/>
<circle cx="458.92" cy="405.61" r="1.75" fill="#dc0f30" stroke="#000" stroke-width="0.7"/>
<circle cx="462.69" cy="403.59" r="1.75" fill="#dc0f30" stroke="#000" stroke-width="0.7"/>
<circle cx="463.22" cy="406.28" r="1.75" fill="#dc0f30" stroke="#000" stroke-width="0.7"/>
<circle cx="476.41" cy="402.65" r="1.75" fill="#dc0f30" stroke="#000" stroke-width="0.7"/>
<circle cx="448.25" cy="389.75" r="1.75" fill="#dc0f30" stroke="#000" stroke-width="0.7"/>
<circle cx="450.25" cy="388.25" r="1.75" fill="#1c5e9e" stroke="#000" stroke-width="0.7"/>
<circle cx="448.5" cy="392.75" r="1.75" fill="#1c5e9e" stroke="#000" stroke-width="0.7"/>
<circle cx="444.5" cy="394.5" r="1.75" fill="#1c5e9e" stroke="#000" stroke-width="0.7"/>
<circle cx="447.75" cy="395.25" r="1.75" fill="#1c5e9e" stroke="#000" stroke-width="0.7"/>
<circle cx="450.5" cy="395.75" r="1.75" fill="#1c5e9e" stroke="#000" stroke-width="0.7"/>
<circle cx="454.25" cy="395.5" r="1.75" fill="#1c5e9e" stroke="#000" stroke-width="0.7"/>
<circle cx="442.25" cy="398" r="1.75" fill="#1c5e9e" stroke="#000" stroke-width="0.7"/>
<circle cx="447" cy="398.25" r="1.75" fill="#1c5e9e" stroke="#000" stroke-width="0.7"/>
<circle cx="451.5" cy="398.5" r="1.75" fill="#1c5e9e" stroke="#000" stroke-width="0.7"/>
<circle cx="445.5" cy="400.75" r="1.75" fill="#1c5e9e" stroke="#000" stroke-width="0.7"/>
<circle cx="449" cy="400.5" r="1.75" fill="#1c5e9e" stroke="#000" stroke-width="0.7"/>
<circle cx="454" cy="400.5" r="1.75" fill="#1c5e9e" stroke="#000" stroke-width="0.7"/>
<circle cx="443.5" cy="404" r="1.75" fill="#1c5e9e" stroke="#000" stroke-width="0.7"/>
<circle cx="447.5" cy="404" r="1.75" fill="#1c5e9e" stroke="#000" stroke-width="0.7"/>
<circle cx="451" cy="402.5" r="1.75" fill="#1c5e9e" stroke="#000" stroke-width="0.7"/>
<circle cx="454" cy="403.25" r="1.75" fill="#1c5e9e" stroke="#000" stroke-width="0.7"/>
<circle cx="445" cy="406" r="1.75" fill="#1c5e9e" stroke="#000" stroke-width="0.7"/>
<circle cx="450.5" cy="405" r="1.75" fill="#dc0f30" stroke="#000" stroke-width="0.7"/>
<circle cx="444.75" cy="407.25" r="1.75" fill="#dc0f30" stroke="#000" stroke-width="0.7"/>
<path d="M30,507 V590.95 H113.25" fill="none" stroke="#2e2e2e" stroke-width="1.5" stroke-linejoin="round"/>
<path d="M30,503 L26.9,508.1 L33.1,508.1 Z" fill="#111"/>
<path d="M117.25,590.95 L112.15,587.85 L112.15,594.05 Z" fill="#111"/>
<text x="51" y="496" font-size="9.8" fill="#2a64a0" stroke="#2a64a0" stroke-width="0.2" textLength="18.38" lengthAdjust="spacingAndGlyphs">MCL</text>
<text x="71.8" y="496" font-size="9.8" fill="#1e1e1e" stroke="#1e1e1e" stroke-width="0.12" textLength="11.12" lengthAdjust="spacingAndGlyphs">vs.</text>
<text x="85.34" y="496" font-size="9.8" fill="#a88c6c" stroke="#a88c6c" stroke-width="0.2" textLength="10.16" lengthAdjust="spacingAndGlyphs">FL</text>
<text transform="translate(67.1,514.25) scale(0.85,1)" font-size="8.3" fill="#222" stroke="#222" stroke-width="0.1" letter-spacing="0.29">2.0</text>
<text transform="translate(52,602.2) scale(0.6,1)" font-size="9.6" fill="#2b2b2b" stroke="#2b2b2b" stroke-width="0.42" letter-spacing="0.39">CA1 (CD5 15%,</text>
<text transform="translate(51,613.3) scale(0.6,1)" font-size="9.6" fill="#2b2b2b" stroke="#2b2b2b" stroke-width="0.42" letter-spacing="0.42">CD10 14%, . . .)</text>
<text transform="translate(13.8,574) rotate(-90) scale(0.6,1)" font-size="9.6" fill="#2b2b2b" stroke="#2b2b2b" stroke-width="0.42" letter-spacing="0.49">CA2 (CD10 13%,</text>
<text transform="translate(25,573) rotate(-90) scale(0.6,1)" font-size="9.6" fill="#2b2b2b" stroke="#2b2b2b" stroke-width="0.42" letter-spacing="0.56">CD20 12%, . . .)</text>
<path d="M50.1,552.1 C51,551.03 52.27,549.47 53.5,548.4 C54.73,547.33 56.15,546.32 57.5,545.7 C58.85,545.08 60.25,544.78 61.6,544.7 C62.95,544.62 64.37,544.8 65.6,545.2 C66.83,545.6 68.03,546.28 69,547.1 C69.97,547.92 70.78,548.92 71.4,550.1 C72.02,551.28 72.25,552.85 72.7,554.2 C73.15,555.55 73.7,556.85 74.1,558.2 C74.5,559.55 74.88,560.95 75.1,562.3 C75.32,563.65 75.52,564.95 75.4,566.3 C75.28,567.65 74.9,569.03 74.4,570.4 C73.9,571.77 73.18,573.27 72.4,574.5 C71.62,575.73 70.72,576.85 69.7,577.8 C68.68,578.75 67.53,579.75 66.3,580.2 C65.07,580.65 63.53,580.73 62.3,580.5 C61.07,580.27 60.03,579.47 58.9,578.8 C57.77,578.13 56.63,577.45 55.5,576.5 C54.37,575.55 53.12,574.23 52.1,573.1 C51.08,571.97 50.18,570.83 49.4,569.7 C48.62,568.57 47.85,567.53 47.4,566.3 C46.95,565.07 46.77,563.65 46.7,562.3 C46.63,560.95 46.77,559.45 47,558.2 C47.23,556.95 47.58,555.82 48.1,554.8 C48.62,553.78 49.2,553.17 50.1,552.1Z" fill="none" stroke="#b3a28e" stroke-width="1.45"/>
<path d="M80.3,552.1 C80.93,551.33 81.73,550.13 82.7,549.5 C83.67,548.87 84.85,548.55 86.1,548.3 C87.35,548.05 88.85,547.95 90.2,548 C91.55,548.05 92.95,548.22 94.2,548.6 C95.45,548.98 96.68,549.53 97.7,550.3 C98.72,551.07 99.63,552.13 100.3,553.2 C100.97,554.27 101.42,555.53 101.7,556.7 C101.98,557.87 102.1,559.05 102,560.2 C101.9,561.35 101.43,562.45 101.1,563.6 C100.77,564.75 100.57,566.03 100,567.1 C99.43,568.17 98.57,569.13 97.7,570 C96.83,570.87 95.87,571.73 94.8,572.3 C93.73,572.87 92.55,573.22 91.3,573.4 C90.05,573.58 88.55,573.58 87.3,573.4 C86.05,573.22 84.87,572.87 83.8,572.3 C82.73,571.73 81.72,570.87 80.9,570 C80.08,569.13 79.42,568.17 78.9,567.1 C78.38,566.03 78.03,564.75 77.8,563.6 C77.57,562.45 77.47,561.35 77.5,560.2 C77.53,559.05 77.77,557.72 78,556.7 C78.23,555.68 78.52,554.87 78.9,554.1 C79.28,553.33 79.67,552.87 80.3,552.1Z" fill="none" stroke="#7ea2c6" stroke-width="1.45"/>
<circle cx="71.75" cy="560.88" r="1.75" fill="#dc0f30" stroke="#000" stroke-width="0.7"/>
<circle cx="63.88" cy="565.38" r="1.75" fill="#dc0f30" stroke="#000" stroke-width="0.7"/>
<circle cx="81.75" cy="563.5" r="1.75" fill="#dc0f30" stroke="#000" stroke-width="0.7"/>
<circle cx="84" cy="556.75" r="1.75" fill="#1c5e9e" stroke="#000" stroke-width="0.7"/>
<circle cx="87" cy="556.25" r="1.75" fill="#1c5e9e" stroke="#000" stroke-width="0.7"/>
<circle cx="90" cy="556.75" r="1.75" fill="#1c5e9e" stroke="#000" stroke-width="0.7"/>
<circle cx="93" cy="557" r="1.75" fill="#1c5e9e" stroke="#000" stroke-width="0.7"/>
<circle cx="95.5" cy="556.5" r="1.75" fill="#1c5e9e" stroke="#000" stroke-width="0.7"/>
<circle cx="84" cy="559.75" r="1.75" fill="#1c5e9e" stroke="#000" stroke-width="0.7"/>
<circle cx="87.25" cy="560" r="1.75" fill="#1c5e9e" stroke="#000" stroke-width="0.7"/>
<circle cx="90.5" cy="560" r="1.75" fill="#1c5e9e" stroke="#000" stroke-width="0.7"/>
<circle cx="93.5" cy="559.75" r="1.75" fill="#1c5e9e" stroke="#000" stroke-width="0.7"/>
<circle cx="96.25" cy="559.25" r="1.75" fill="#1c5e9e" stroke="#000" stroke-width="0.7"/>
<circle cx="84.25" cy="562.75" r="1.75" fill="#1c5e9e" stroke="#000" stroke-width="0.7"/>
<circle cx="87" cy="563" r="1.75" fill="#1c5e9e" stroke="#000" stroke-width="0.7"/>
<circle cx="90" cy="563.5" r="1.75" fill="#1c5e9e" stroke="#000" stroke-width="0.7"/>
<circle cx="92.75" cy="563.5" r="1.75" fill="#1c5e9e" stroke="#000" stroke-width="0.7"/>
<circle cx="96" cy="562.75" r="1.75" fill="#1c5e9e" stroke="#000" stroke-width="0.7"/>
<circle cx="82.75" cy="565.5" r="1.75" fill="#1c5e9e" stroke="#000" stroke-width="0.7"/>
<circle cx="85.75" cy="565.5" r="1.75" fill="#1c5e9e" stroke="#000" stroke-width="0.7"/>
<circle cx="88.75" cy="566" r="1.75" fill="#1c5e9e" stroke="#000" stroke-width="0.7"/>
<circle cx="93.5" cy="566.25" r="1.75" fill="#1c5e9e" stroke="#000" stroke-width="0.7"/>
<circle cx="83.5" cy="567.75" r="1.75" fill="#1c5e9e" stroke="#000" stroke-width="0.7"/>
<circle cx="86" cy="567.25" r="1.75" fill="#1c5e9e" stroke="#000" stroke-width="0.7"/>
<circle cx="82" cy="563" r="1.75" fill="#1c5e9e" stroke="#000" stroke-width="0.7"/>
<circle cx="81" cy="551" r="1.75" fill="#dc0f30" stroke="#000" stroke-width="0.7"/>
<circle cx="75.5" cy="553" r="1.75" fill="#dc0f30" stroke="#000" stroke-width="0.7"/>
<circle cx="89.75" cy="553.25" r="1.75" fill="#dc0f30" stroke="#000" stroke-width="0.7"/>
<circle cx="81.25" cy="556.75" r="1.75" fill="#dc0f30" stroke="#000" stroke-width="0.7"/>
<circle cx="79.75" cy="560" r="1.75" fill="#dc0f30" stroke="#000" stroke-width="0.7"/>
<circle cx="78.25" cy="562.75" r="1.75" fill="#dc0f30" stroke="#000" stroke-width="0.7"/>
<circle cx="78" cy="564.5" r="1.75" fill="#dc0f30" stroke="#000" stroke-width="0.7"/>
<circle cx="87.75" cy="569" r="1.75" fill="#dc0f30" stroke="#000" stroke-width="0.7"/>
<circle cx="83.5" cy="570.75" r="1.75" fill="#dc0f30" stroke="#000" stroke-width="0.7"/>
<path d="M159.5,507 V590.95 H242.75" fill="none" stroke="#2e2e2e" stroke-width="1.5" stroke-linejoin="round"/>
<path d="M159.5,503 L156.4,508.1 L162.6,508.1 Z" fill="#111"/>
<path d="M246.75,590.95 L241.65,587.85 L241.65,594.05 Z" fill="#111"/>
<text x="176.25" y="496" font-size="9.8" fill="#2a5f96" stroke="#2a5f96" stroke-width="0.2" textLength="18.91" lengthAdjust="spacingAndGlyphs">MCL</text>
<text x="197.65" y="496" font-size="9.8" fill="#1e1e1e" stroke="#1e1e1e" stroke-width="0.12" textLength="11.44" lengthAdjust="spacingAndGlyphs">vs.</text>
<text x="211.58" y="496" font-size="9.8" fill="#8eaac6" stroke="#8eaac6" stroke-width="0.2" textLength="17.92" lengthAdjust="spacingAndGlyphs">HCL</text>
<text transform="translate(197.1,514.25) scale(0.85,1)" font-size="8.3" fill="#222" stroke="#222" stroke-width="0.1" letter-spacing="-0">2.5</text>
<text transform="translate(178,602.2) scale(0.6,1)" font-size="9.6" fill="#2b2b2b" stroke="#2b2b2b" stroke-width="0.42" letter-spacing="0.4">CA1 (CD11c 14%,</text>
<text transform="translate(182,613.3) scale(0.6,1)" font-size="9.6" fill="#2b2b2b" stroke="#2b2b2b" stroke-width="0.42" letter-spacing="0.47">CD5 12%, . . .)</text>
<text transform="translate(143.3,575.25) rotate(-90) scale(0.6,1)" font-size="9.6" fill="#2b2b2b" stroke="#2b2b2b" stroke-width="0.42" letter-spacing="0.37">CA2 (CD103 17%,</text>
<text transform="translate(154.5,571.5) rotate(-90) scale(0.6,1)" font-size="9.6" fill="#2b2b2b" stroke="#2b2b2b" stroke-width="0.42" letter-spacing="0.47">CD5 10%, . . .)</text>
<path d="M174.4,554.4 C175.18,553.53 176.25,552.67 177.3,552.1 C178.35,551.53 179.45,551.2 180.7,551 C181.95,550.8 183.53,550.77 184.8,550.9 C186.07,551.03 187.23,551.37 188.3,551.8 C189.37,552.23 190.43,552.68 191.2,553.5 C191.97,554.32 192.52,555.58 192.9,556.7 C193.28,557.82 193.45,559.05 193.5,560.2 C193.55,561.35 193.5,562.35 193.2,563.6 C192.9,564.85 192.23,566.35 191.7,567.7 C191.17,569.05 190.67,570.35 190,571.7 C189.33,573.05 188.57,574.53 187.7,575.8 C186.83,577.07 185.87,578.43 184.8,579.3 C183.73,580.17 182.47,580.82 181.3,581 C180.13,581.18 178.87,580.78 177.8,580.4 C176.73,580.02 175.77,579.47 174.9,578.7 C174.03,577.93 173.27,576.87 172.6,575.8 C171.93,574.73 171.28,573.55 170.9,572.3 C170.52,571.05 170.35,569.65 170.3,568.3 C170.25,566.95 170.4,565.55 170.6,564.2 C170.8,562.85 171.17,561.35 171.5,560.2 C171.83,559.05 172.12,558.27 172.6,557.3 C173.08,556.33 173.62,555.27 174.4,554.4Z" fill="none" stroke="#30577a" stroke-width="1.45"/>
<path d="M198.3,552.6 C198.9,551.88 200.05,551.85 201.1,551.2 C202.15,550.55 203.42,549.35 204.6,548.7 C205.78,548.05 206.9,547.68 208.2,547.3 C209.5,546.92 211.1,546.4 212.4,546.4 C213.7,546.4 214.93,546.73 216,547.3 C217.07,547.87 217.75,548.73 218.8,549.8 C219.85,550.87 221.12,552.47 222.3,553.7 C223.48,554.93 225.07,555.97 225.9,557.2 C226.73,558.43 227.07,559.62 227.3,561.1 C227.53,562.58 227.42,564.43 227.3,566.1 C227.18,567.77 227.07,569.57 226.6,571.1 C226.13,572.63 225.33,574 224.5,575.3 C223.67,576.6 222.67,577.83 221.6,578.9 C220.53,579.97 219.4,581.12 218.1,581.7 C216.8,582.28 215.1,582.52 213.8,582.4 C212.5,582.28 211.35,581.72 210.3,581 C209.25,580.28 208.45,579.05 207.5,578.1 C206.55,577.15 205.43,576.47 204.6,575.3 C203.77,574.13 203.2,572.52 202.5,571.1 C201.8,569.68 201.1,568.1 200.4,566.8 C199.7,565.5 198.78,564.6 198.3,563.3 C197.82,562 197.63,560.3 197.5,559 C197.37,557.7 197.37,556.57 197.5,555.5 C197.63,554.43 197.7,553.32 198.3,552.6Z" fill="none" stroke="#627b91" stroke-width="1.45"/>
<circle cx="186.8" cy="557.8" r="1.75" fill="#1c5e9e" stroke="#000" stroke-width="0.7"/>
<circle cx="183.5" cy="559.8" r="1.75" fill="#1c5e9e" stroke="#000" stroke-width="0.7"/>
<circle cx="181.7" cy="560.3" r="1.75" fill="#1c5e9e" stroke="#000" stroke-width="0.7"/>
<circle cx="187.2" cy="561.7" r="1.75" fill="#1c5e9e" stroke="#000" stroke-width="0.7"/>
<circle cx="185.4" cy="563.1" r="1.75" fill="#1c5e9e" stroke="#000" stroke-width="0.7"/>
<circle cx="178" cy="564" r="1.75" fill="#1c5e9e" stroke="#000" stroke-width="0.7"/>
<circle cx="181.7" cy="564" r="1.75" fill="#1c5e9e" stroke="#000" stroke-width="0.7"/>
<circle cx="183.5" cy="564.9" r="1.75" fill="#1c5e9e" stroke="#000" stroke-width="0.7"/>
<circle cx="186.8" cy="564.5" r="1.75" fill="#1c5e9e" stroke="#000" stroke-width="0.7"/>
<circle cx="179.4" cy="565.8" r="1.75" fill="#1c5e9e" stroke="#000" stroke-width="0.7"/>
<circle cx="182.2" cy="567.2" r="1.75" fill="#1c5e9e" stroke="#000" stroke-width="0.7"/>
<circle cx="185.8" cy="566.8" r="1.75" fill="#1c5e9e" stroke="#000" stroke-width="0.7"/>
<circle cx="188.6" cy="567.2" r="1.75" fill="#1c5e9e" stroke="#000" stroke-width="0.7"/>
<circle cx="178.9" cy="569.1" r="1.75" fill="#1c5e9e" stroke="#000" stroke-width="0.7"/>
<circle cx="182.6" cy="569.5" r="1.75" fill="#1c5e9e" stroke="#000" stroke-width="0.7"/>
<circle cx="185.4" cy="568.6" r="1.75" fill="#1c5e9e" stroke="#000" stroke-width="0.7"/>
<circle cx="178.9" cy="573.2" r="1.75" fill="#1c5e9e" stroke="#000" stroke-width="0.7"/>
<circle cx="196.22" cy="546.73" r="1.75" fill="#dc0f30" stroke="#000" stroke-width="0.7"/>
<circle cx="184" cy="553.8" r="1.75" fill="#dc0f30" stroke="#000" stroke-width="0.7"/>
<circle cx="190.2" cy="555.9" r="1.75" fill="#dc0f30" stroke="#000" stroke-width="0.7"/>
<circle cx="180.1" cy="562.4" r="1.75" fill="#dc0f30" stroke="#000" stroke-width="0.7"/>
<circle cx="193" cy="566.3" r="1.75" fill="#dc0f30" stroke="#000" stroke-width="0.7"/>
<circle cx="181.9" cy="571.6" r="1.75" fill="#dc0f30" stroke="#000" stroke-width="0.7"/>
<circle cx="175" cy="573.2" r="1.75" fill="#dc0f30" stroke="#000" stroke-width="0.7"/>
<path d="M289.1,507 V590.95 H372" fill="none" stroke="#2e2e2e" stroke-width="1.5" stroke-linejoin="round"/>
<path d="M289.1,503 L286,508.1 L292.2,508.1 Z" fill="#111"/>
<path d="M376,590.95 L370.9,587.85 L370.9,594.05 Z" fill="#111"/>
<text x="307" y="496" font-size="9.8" fill="#2a5f96" stroke="#2a5f96" stroke-width="0.2" textLength="18.63" lengthAdjust="spacingAndGlyphs">MCL</text>
<text x="328.08" y="496" font-size="9.8" fill="#1e1e1e" stroke="#1e1e1e" stroke-width="0.12" textLength="11.27" lengthAdjust="spacingAndGlyphs">vs.</text>
<text x="341.8" y="496" font-size="9.8" fill="#49abdc" stroke="#49abdc" stroke-width="0.2" textLength="15.7" lengthAdjust="spacingAndGlyphs">LPL</text>
<text transform="translate(327.6,514.25) scale(0.85,1)" font-size="8.3" fill="#222" stroke="#222" stroke-width="0.1" letter-spacing="-0">1.5</text>
<text transform="translate(310,602.2) scale(0.6,1)" font-size="9.6" fill="#2b2b2b" stroke="#2b2b2b" stroke-width="0.42" letter-spacing="0.49">CA1 (CD5 14%,</text>
<text transform="translate(309.5,613.3) scale(0.6,1)" font-size="9.6" fill="#2b2b2b" stroke="#2b2b2b" stroke-width="0.42" letter-spacing="0.49">CD45 11%, . . .)</text>
<text transform="translate(272.9,574.25) rotate(-90) scale(0.6,1)" font-size="9.6" fill="#2b2b2b" stroke="#2b2b2b" stroke-width="0.42" letter-spacing="0.52">CA2 (CD19 36%,</text>
<text transform="translate(284.1,573.5) rotate(-90) scale(0.6,1)" font-size="9.6" fill="#2b2b2b" stroke="#2b2b2b" stroke-width="0.42" letter-spacing="0.53">CD45 13%, . . .)</text>
<path d="M308.8,568.5 C309.45,567.07 310.42,564.9 311.7,563.7 C312.98,562.5 314.9,561.78 316.5,561.3 C318.1,560.82 319.78,560.57 321.3,560.8 C322.82,561.03 324.48,561.73 325.6,562.7 C326.72,563.67 327.52,565.15 328,566.6 C328.48,568.05 328.65,569.88 328.5,571.4 C328.35,572.92 327.98,574.5 327.1,575.7 C326.22,576.9 324.65,578.03 323.2,578.6 C321.75,579.17 320,579.1 318.4,579.1 C316.8,579.1 315.03,579.08 313.6,578.6 C312.17,578.12 310.77,577.25 309.8,576.2 C308.83,575.15 307.97,573.58 307.8,572.3 C307.63,571.02 308.15,569.93 308.8,568.5Z" fill="none" stroke="#44708f" stroke-width="1.45"/>
<path d="M331.9,565.6 C332.55,564.4 333.52,563.18 334.8,562.3 C336.08,561.42 338,560.55 339.6,560.3 C341.2,560.05 342.97,560.23 344.4,560.8 C345.83,561.37 347.08,562.42 348.2,563.7 C349.32,564.98 350.53,566.9 351.1,568.5 C351.67,570.1 351.92,571.78 351.6,573.3 C351.28,574.82 350.4,576.48 349.2,577.6 C348,578.72 346.17,579.6 344.4,580 C342.63,580.4 340.37,580.4 338.6,580 C336.83,579.6 335,578.63 333.8,577.6 C332.6,576.57 331.88,575.15 331.4,573.8 C330.92,572.45 330.82,570.87 330.9,569.5 C330.98,568.13 331.25,566.8 331.9,565.6Z" fill="none" stroke="#4a94b8" stroke-width="1.45"/>
<circle cx="317" cy="564.6" r="1.75" fill="#1c5e9e" stroke="#000" stroke-width="0.7"/>
<circle cx="319.7" cy="564.3" r="1.75" fill="#1c5e9e" stroke="#000" stroke-width="0.7"/>
<circle cx="323" cy="564.9" r="1.75" fill="#1c5e9e" stroke="#000" stroke-width="0.7"/>
<circle cx="314.6" cy="567" r="1.75" fill="#1c5e9e" stroke="#000" stroke-width="0.7"/>
<circle cx="317" cy="567" r="1.75" fill="#1c5e9e" stroke="#000" stroke-width="0.7"/>
<circle cx="319.7" cy="567" r="1.75" fill="#1c5e9e" stroke="#000" stroke-width="0.7"/>
<circle cx="322.7" cy="567.8" r="1.75" fill="#1c5e9e" stroke="#000" stroke-width="0.7"/>
<circle cx="324.8" cy="568.4" r="1.75" fill="#1c5e9e" stroke="#000" stroke-width="0.7"/>
<circle cx="313.8" cy="570.3" r="1.75" fill="#1c5e9e" stroke="#000" stroke-width="0.7"/>
<circle cx="316.8" cy="570.3" r="1.75" fill="#1c5e9e" stroke="#000" stroke-width="0.7"/>
<circle cx="320" cy="570.5" r="1.75" fill="#1c5e9e" stroke="#000" stroke-width="0.7"/>
<circle cx="324.3" cy="570.3" r="1.75" fill="#1c5e9e" stroke="#000" stroke-width="0.7"/>
<circle cx="325.7" cy="571.9" r="1.75" fill="#1c5e9e" stroke="#000" stroke-width="0.7"/>
<circle cx="313.3" cy="573.2" r="1.75" fill="#1c5e9e" stroke="#000" stroke-width="0.7"/>
<circle cx="316.2" cy="573.2" r="1.75" fill="#1c5e9e" stroke="#000" stroke-width="0.7"/>
<circle cx="318.9" cy="573.2" r="1.75" fill="#1c5e9e" stroke="#000" stroke-width="0.7"/>
<circle cx="310" cy="574.3" r="1.75" fill="#1c5e9e" stroke="#000" stroke-width="0.7"/>
<circle cx="316" cy="575.7" r="1.75" fill="#1c5e9e" stroke="#000" stroke-width="0.7"/>
<circle cx="318.7" cy="575.9" r="1.75" fill="#1c5e9e" stroke="#000" stroke-width="0.7"/>
<circle cx="321.5" cy="573.5" r="1.75" fill="#1c5e9e" stroke="#000" stroke-width="0.7"/>
<circle cx="322" cy="570" r="1.75" fill="#1c5e9e" stroke="#000" stroke-width="0.7"/>
<circle cx="312.2" cy="559.5" r="1.75" fill="#dc0f30" stroke="#000" stroke-width="0.7"/>
<circle cx="309" cy="567.6" r="1.75" fill="#dc0f30" stroke="#000" stroke-width="0.7"/>
<circle cx="326.7" cy="566.2" r="1.75" fill="#dc0f30" stroke="#000" stroke-width="0.7"/>
<circle cx="328.1" cy="568.9" r="1.75" fill="#dc0f30" stroke="#000" stroke-width="0.7"/>
<circle cx="330.2" cy="568.7" r="1.75" fill="#dc0f30" stroke="#000" stroke-width="0.7"/>
<circle cx="332.4" cy="568.1" r="1.75" fill="#dc0f30" stroke="#000" stroke-width="0.7"/>
<circle cx="330.8" cy="571.1" r="1.75" fill="#dc0f30" stroke="#000" stroke-width="0.7"/>
<circle cx="323.2" cy="573.2" r="1.75" fill="#dc0f30" stroke="#000" stroke-width="0.7"/>
<circle cx="325.1" cy="576.2" r="1.75" fill="#dc0f30" stroke="#000" stroke-width="0.7"/>
<circle cx="321.3" cy="576.7" r="1.75" fill="#dc0f30" stroke="#000" stroke-width="0.7"/>
<path d="M418.5,507 V590.95 H502.2" fill="none" stroke="#2e2e2e" stroke-width="1.5" stroke-linejoin="round"/>
<path d="M418.5,503 L415.4,508.1 L421.6,508.1 Z" fill="#111"/>
<path d="M506.2,590.95 L501.1,587.85 L501.1,594.05 Z" fill="#111"/>
<text x="435.75" y="496" font-size="9.8" fill="#2a64a0" stroke="#2a64a0" stroke-width="0.2" textLength="18.82" lengthAdjust="spacingAndGlyphs">MCL</text>
<text x="457.05" y="496" font-size="9.8" fill="#1e1e1e" stroke="#1e1e1e" stroke-width="0.12" textLength="11.39" lengthAdjust="spacingAndGlyphs">vs.</text>
<text x="470.92" y="496" font-size="9.8" fill="#d43550" stroke="#d43550" stroke-width="0.2" textLength="17.83" lengthAdjust="spacingAndGlyphs">MZL</text>
<text transform="translate(456.35,514.25) scale(0.85,1)" font-size="8.3" fill="#222" stroke="#222" stroke-width="0.1" letter-spacing="0.29">2.0</text>
<text transform="translate(440,602.2) scale(0.6,1)" font-size="9.6" fill="#2b2b2b" stroke="#2b2b2b" stroke-width="0.42" letter-spacing="0.49">CA1 (CD5 19%,</text>
<text transform="translate(439.5,613.3) scale(0.6,1)" font-size="9.6" fill="#2b2b2b" stroke="#2b2b2b" stroke-width="0.42" letter-spacing="0.45">CD19 12%, . . .)</text>
<text transform="translate(402.3,574.25) rotate(-90) scale(0.6,1)" font-size="9.6" fill="#2b2b2b" stroke="#2b2b2b" stroke-width="0.42" letter-spacing="0.52">CA2 (CD19 18%,</text>
<text transform="translate(413.5,574) rotate(-90) scale(0.6,1)" font-size="9.6" fill="#2b2b2b" stroke="#2b2b2b" stroke-width="0.42" letter-spacing="0.64">CD95 14%, . . .)</text>
<path d="M441.7,554.6 C442.98,553.08 444.07,551.35 445.5,550.3 C446.93,549.25 448.77,548.47 450.3,548.3 C451.83,548.13 453.57,548.57 454.7,549.3 C455.83,550.03 456.55,551.33 457.1,552.7 C457.65,554.07 457.88,555.9 458,557.5 C458.12,559.1 457.8,560.7 457.8,562.3 C457.8,563.9 458.12,565.5 458,567.1 C457.88,568.7 457.73,570.53 457.1,571.9 C456.47,573.27 455.33,574.73 454.2,575.3 C453.07,575.87 451.58,575.87 450.3,575.3 C449.02,574.73 447.77,573.12 446.5,571.9 C445.23,570.68 443.98,569.12 442.7,568 C441.42,566.88 439.77,566.15 438.8,565.2 C437.83,564.25 437.07,563.27 436.9,562.3 C436.73,561.33 437,560.68 437.8,559.4 C438.6,558.12 440.42,556.12 441.7,554.6Z" fill="none" stroke="#e08890" stroke-width="1.45"/>
<path d="M460,552.7 C460.88,551.33 462.37,550.12 463.8,549.3 C465.23,548.48 467,548.05 468.6,547.8 C470.2,547.55 471.95,547.47 473.4,547.8 C474.85,548.13 476.25,548.83 477.3,549.8 C478.35,550.77 479.15,552.17 479.7,553.6 C480.25,555.03 480.52,556.8 480.6,558.4 C480.68,560 480.43,561.6 480.2,563.2 C479.97,564.8 479.85,566.55 479.2,568 C478.55,569.45 477.58,571.02 476.3,571.9 C475.02,572.78 473.27,573.07 471.5,573.3 C469.73,573.53 467.3,573.62 465.7,573.3 C464.1,572.98 462.93,572.35 461.9,571.4 C460.87,570.45 460.07,569.12 459.5,567.6 C458.93,566.08 458.67,563.98 458.5,562.3 C458.33,560.62 458.25,559.1 458.5,557.5 C458.75,555.9 459.12,554.07 460,552.7Z" fill="none" stroke="#7ea2c6" stroke-width="1.45"/>
<circle cx="451.5" cy="557.5" r="1.75" fill="#dc0f30" stroke="#000" stroke-width="0.7"/>
<circle cx="474.25" cy="550.25" r="1.75" fill="#dc0f30" stroke="#000" stroke-width="0.7"/>
<circle cx="463" cy="554" r="1.75" fill="#dc0f30" stroke="#000" stroke-width="0.7"/>
<circle cx="469.25" cy="558.25" r="1.75" fill="#dc0f30" stroke="#000" stroke-width="0.7"/>
<circle cx="473" cy="554" r="1.75" fill="#1c5e9e" stroke="#000" stroke-width="0.7"/>
<circle cx="461" cy="555.75" r="1.75" fill="#1c5e9e" stroke="#000" stroke-width="0.7"/>
<circle cx="468.75" cy="555.75" r="1.75" fill="#1c5e9e" stroke="#000" stroke-width="0.7"/>
<circle cx="465.5" cy="557.75" r="1.75" fill="#1c5e9e" stroke="#000" stroke-width="0.7"/>
<circle cx="471.5" cy="558.25" r="1.75" fill="#1c5e9e" stroke="#000" stroke-width="0.7"/>
<circle cx="475" cy="557.5" r="1.75" fill="#1c5e9e" stroke="#000" stroke-width="0.7"/>
<circle cx="460.5" cy="558.5" r="1.75" fill="#1c5e9e" stroke="#000" stroke-width="0.7"/>
<circle cx="463" cy="559" r="1.75" fill="#1c5e9e" stroke="#000" stroke-width="0.7"/>
<circle cx="468" cy="560.5" r="1.75" fill="#1c5e9e" stroke="#000" stroke-width="0.7"/>
<circle cx="474.5" cy="559.75" r="1.75" fill="#1c5e9e" stroke="#000" stroke-width="0.7"/>
<circle cx="477" cy="560.75" r="1.75" fill="#1c5e9e" stroke="#000" stroke-width="0.7"/>
<circle cx="460.75" cy="561.75" r="1.75" fill="#1c5e9e" stroke="#000" stroke-width="0.7"/>
<circle cx="463.25" cy="562.5" r="1.75" fill="#1c5e9e" stroke="#000" stroke-width="0.7"/>
<circle cx="470.25" cy="562" r="1.75" fill="#1c5e9e" stroke="#000" stroke-width="0.7"/>
<circle cx="472.75" cy="563.25" r="1.75" fill="#1c5e9e" stroke="#000" stroke-width="0.7"/>
<circle cx="464" cy="563.75" r="1.75" fill="#1c5e9e" stroke="#000" stroke-width="0.7"/>
<circle cx="467" cy="564" r="1.75" fill="#1c5e9e" stroke="#000" stroke-width="0.7"/>
<circle cx="469.5" cy="565" r="1.75" fill="#1c5e9e" stroke="#000" stroke-width="0.7"/>
<circle cx="466" cy="566.75" r="1.75" fill="#1c5e9e" stroke="#000" stroke-width="0.7"/>
<circle cx="466.5" cy="568.75" r="1.75" fill="#1c5e9e" stroke="#000" stroke-width="0.7"/>
<circle cx="466" cy="559.5" r="1.75" fill="#1c5e9e" stroke="#000" stroke-width="0.7"/>
<circle cx="465" cy="561.25" r="1.75" fill="#dc0f30" stroke="#000" stroke-width="0.7"/>
<circle cx="460" cy="565" r="1.75" fill="#dc0f30" stroke="#000" stroke-width="0.7"/>
<text x="6.9" y="15.3" font-size="10.4" font-weight="bold" fill="#111" stroke="#111" stroke-width="0.45">A</text>
<text x="6.9" y="337.0" font-size="10.4" font-weight="bold" fill="#111" stroke="#111" stroke-width="0.45">B</text>
<rect x="0" y="0" width="520" height="1.15" fill="#000"/><rect x="0" y="0" width="1.15" height="621" fill="#000"/><rect x="518.85" y="0" width="1.15" height="621" fill="#000"/><rect x="0" y="619.85" width="520" height="1.15" fill="#000"/>
</svg>
</body></html>
